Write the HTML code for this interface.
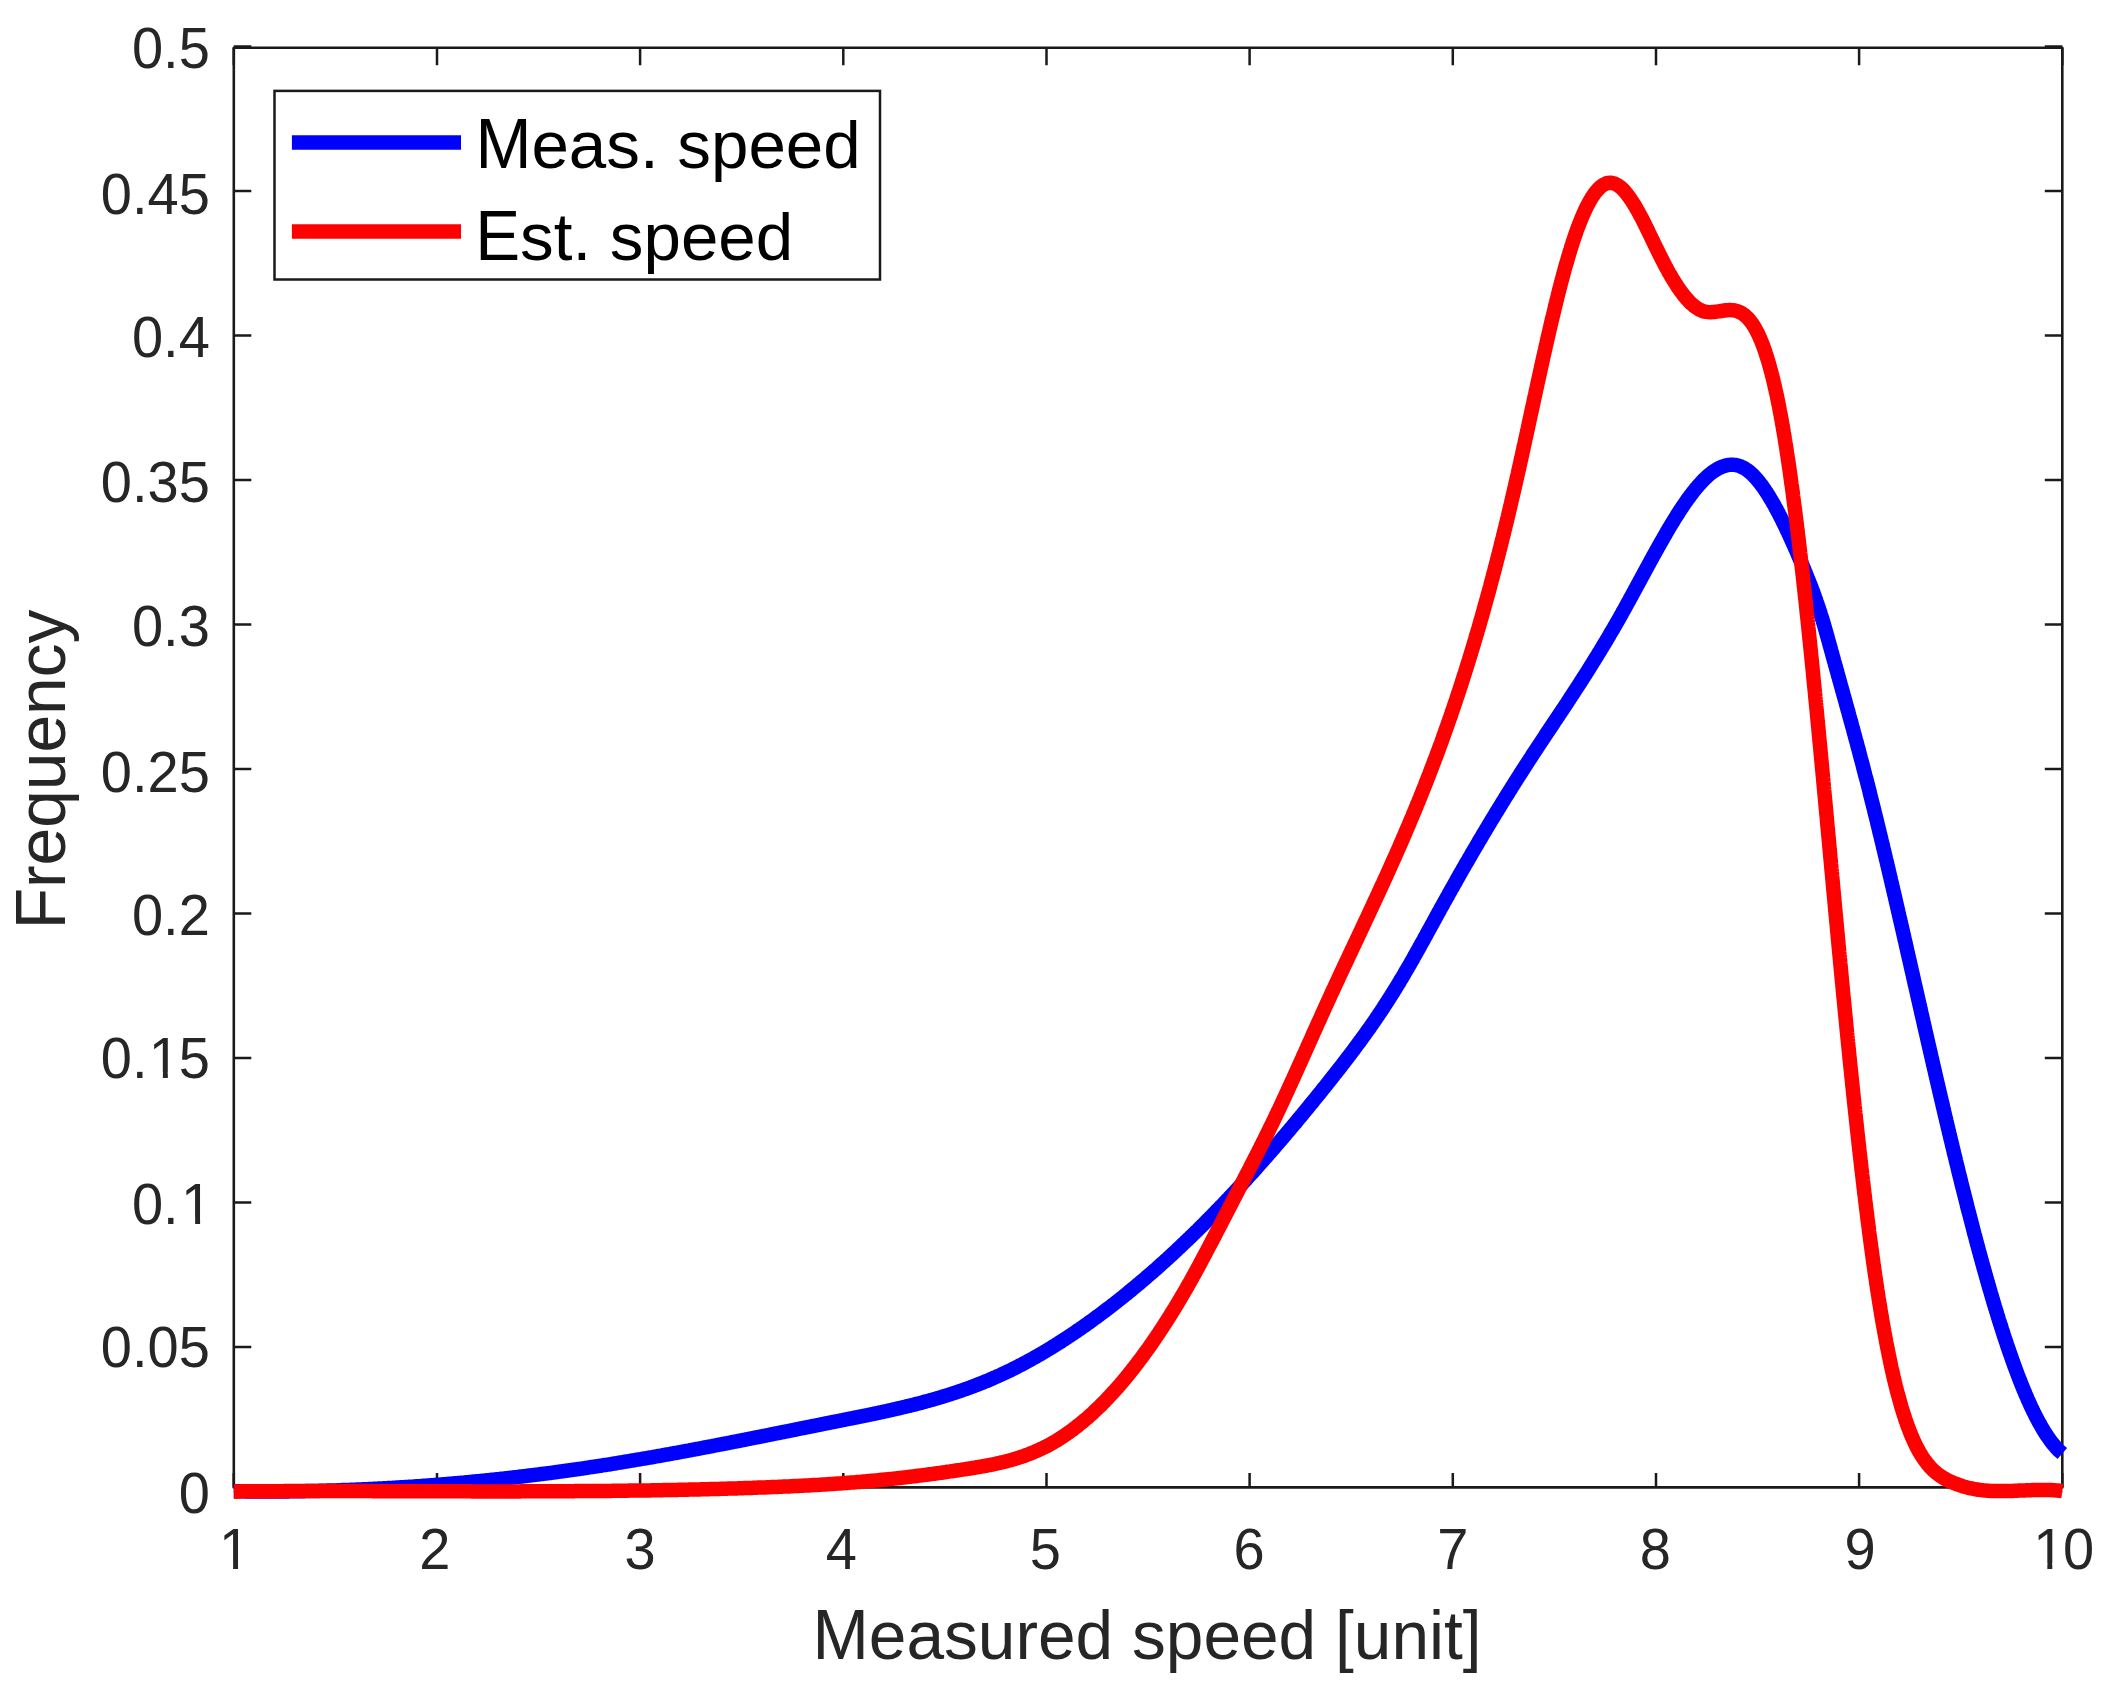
<!DOCTYPE html>
<html><head><meta charset="utf-8"><title>Speed distribution</title>
<style>html,body{margin:0;padding:0;background:#fff;}svg{display:block;}</style>
</head><body>
<svg xmlns="http://www.w3.org/2000/svg" width="2106" height="1688" viewBox="0 0 2106 1688" font-family="'Liberation Sans', Arial, Helvetica, sans-serif">
<defs><clipPath id="no1bar"><path clip-rule="evenodd" d="M0,0 H2106 V1688 H0 Z M183.82,1218.12 H195.14 V1225.18 H183.82 Z M200.09,1218.12 H210.97 V1225.18 H200.09 Z M151.58,1072.23 H162.89 V1079.29 H151.58 Z M167.84,1072.23 H178.72 V1079.29 H167.84 Z M221.79,1563.53 H233.11 V1570.60 H221.79 Z M238.06,1563.53 H248.94 V1570.60 H238.06 Z M2036.02,1563.53 H2047.34 V1570.60 H2036.02 Z M2052.29,1563.53 H2063.17 V1570.60 H2052.29 Z"/></clipPath></defs>
<rect width="2106" height="1688" fill="#fff"/>
<g fill="none" stroke-linecap="butt" stroke-linejoin="round">
<path d="M233.8,1487.4 V1472.9 M233.8,47.7 V65.2 M437.0,1487.4 V1472.9 M437.0,47.7 V65.2 M640.1,1487.4 V1472.9 M640.1,47.7 V65.2 M843.3,1487.4 V1472.9 M843.3,47.7 V65.2 M1046.5,1487.4 V1472.9 M1046.5,47.7 V65.2 M1249.6,1487.4 V1472.9 M1249.6,47.7 V65.2 M1452.8,1487.4 V1472.9 M1452.8,47.7 V65.2 M1656.0,1487.4 V1472.9 M1656.0,47.7 V65.2 M1859.1,1487.4 V1472.9 M1859.1,47.7 V65.2 M2062.3,1487.4 V1472.9 M2062.3,47.7 V65.2 M233.8,1491.4 H251.3 M2062.3,1491.4 H2044.8 M233.8,1346.9 H251.3 M2062.3,1346.9 H2044.8 M233.8,1202.4 H251.3 M2062.3,1202.4 H2044.8 M233.8,1057.9 H251.3 M2062.3,1057.9 H2044.8 M233.8,913.4 H251.3 M2062.3,913.4 H2044.8 M233.8,769.0 H251.3 M2062.3,769.0 H2044.8 M233.8,624.5 H251.3 M2062.3,624.5 H2044.8 M233.8,480.0 H251.3 M2062.3,480.0 H2044.8 M233.8,335.5 H251.3 M2062.3,335.5 H2044.8 M233.8,191.0 H251.3 M2062.3,191.0 H2044.8 M233.8,46.5 H251.3 M2062.3,46.5 H2044.8" stroke="#1a1a1a" stroke-width="2.5"/>
<rect x="233.8" y="47.7" width="1828.5" height="1439.7" stroke="#1a1a1a" stroke-width="2.6"/>
<path d="M233.8,1491.2 L235.0,1491.2 L236.2,1491.2 L237.4,1491.2 L238.6,1491.3 L239.8,1491.3 L241.1,1491.3 L242.3,1491.3 L243.5,1491.3 L244.7,1491.3 L245.9,1491.4 L247.1,1491.4 L248.3,1491.4 L249.5,1491.4 L250.7,1491.4 L251.9,1491.4 L253.2,1491.4 L254.4,1491.4 L255.6,1491.4 L256.8,1491.4 L258.0,1491.4 L259.2,1491.4 L260.4,1491.4 L261.6,1491.5 L262.8,1491.5 L264.0,1491.5 L265.2,1491.5 L266.5,1491.5 L267.7,1491.5 L268.9,1491.5 L270.1,1491.5 L271.3,1491.5 L272.5,1491.5 L273.7,1491.4 L274.9,1491.4 L276.1,1491.4 L277.3,1491.4 L278.6,1491.4 L279.8,1491.4 L281.0,1491.4 L282.2,1491.4 L283.4,1491.4 L284.6,1491.4 L285.8,1491.4 L287.0,1491.4 L288.2,1491.4 L289.4,1491.3 L290.7,1491.3 L291.9,1491.3 L293.1,1491.3 L294.3,1491.3 L295.5,1491.3 L296.7,1491.3 L297.9,1491.2 L299.1,1491.2 L300.3,1491.2 L301.5,1491.2 L302.7,1491.2 L304.0,1491.2 L305.2,1491.1 L306.4,1491.1 L307.6,1491.1 L308.8,1491.1 L310.0,1491.0 L311.2,1491.0 L312.4,1491.0 L313.6,1491.0 L314.8,1490.9 L316.1,1490.9 L317.3,1490.9 L318.5,1490.9 L319.7,1490.8 L320.9,1490.8 L322.1,1490.8 L323.3,1490.7 L324.5,1490.7 L325.7,1490.7 L326.9,1490.6 L328.1,1490.6 L329.4,1490.6 L330.6,1490.5 L331.8,1490.5 L333.0,1490.5 L334.2,1490.4 L335.4,1490.4 L336.6,1490.4 L337.8,1490.3 L339.0,1490.3 L340.2,1490.2 L341.4,1490.2 L342.7,1490.1 L343.9,1490.1 L345.1,1490.1 L346.3,1490.0 L347.5,1490.0 L348.7,1489.9 L349.9,1489.9 L351.1,1489.8 L352.3,1489.8 L353.5,1489.7 L354.7,1489.7 L355.9,1489.6 L357.2,1489.6 L358.4,1489.5 L359.6,1489.5 L360.8,1489.4 L362.0,1489.4 L363.2,1489.3 L364.4,1489.3 L365.6,1489.2 L366.8,1489.2 L368.0,1489.1 L369.2,1489.1 L370.4,1489.0 L371.7,1488.9 L372.9,1488.9 L374.1,1488.8 L375.3,1488.8 L376.5,1488.7 L377.7,1488.6 L378.9,1488.6 L380.1,1488.5 L381.3,1488.5 L382.5,1488.4 L383.7,1488.3 L384.9,1488.3 L386.2,1488.2 L387.4,1488.1 L388.6,1488.1 L389.8,1488.0 L391.0,1487.9 L392.2,1487.9 L393.4,1487.8 L394.6,1487.7 L395.8,1487.6 L397.0,1487.6 L398.2,1487.5 L399.4,1487.4 L400.6,1487.3 L401.9,1487.3 L403.1,1487.2 L404.3,1487.1 L405.5,1487.0 L406.7,1487.0 L407.9,1486.9 L409.1,1486.8 L410.3,1486.7 L411.5,1486.7 L412.7,1486.6 L413.9,1486.5 L415.1,1486.4 L416.3,1486.3 L417.5,1486.2 L418.8,1486.2 L420.0,1486.1 L421.2,1486.0 L422.4,1485.9 L423.6,1485.8 L424.8,1485.7 L426.0,1485.6 L427.2,1485.5 L428.4,1485.5 L429.6,1485.4 L430.8,1485.3 L432.0,1485.2 L433.2,1485.1 L434.4,1485.0 L435.6,1484.9 L436.8,1484.8 L438.1,1484.7 L439.3,1484.6 L440.5,1484.5 L441.7,1484.4 L442.9,1484.3 L444.1,1484.2 L445.3,1484.1 L446.5,1484.0 L447.7,1483.9 L448.9,1483.8 L450.1,1483.7 L451.3,1483.6 L452.5,1483.5 L453.7,1483.4 L454.9,1483.3 L456.1,1483.2 L457.3,1483.1 L458.5,1483.0 L459.7,1482.9 L461.0,1482.8 L462.2,1482.7 L463.4,1482.6 L464.6,1482.5 L465.8,1482.3 L467.0,1482.2 L468.2,1482.1 L469.4,1482.0 L470.6,1481.9 L471.8,1481.8 L473.0,1481.7 L474.2,1481.5 L475.4,1481.4 L476.6,1481.3 L477.8,1481.2 L479.0,1481.1 L480.2,1481.0 L481.4,1480.8 L482.6,1480.7 L483.8,1480.6 L485.0,1480.5 L486.2,1480.4 L487.4,1480.2 L488.6,1480.1 L489.8,1480.0 L491.1,1479.9 L492.3,1479.7 L493.5,1479.6 L494.7,1479.5 L495.9,1479.4 L497.1,1479.2 L498.3,1479.1 L499.5,1479.0 L500.7,1478.8 L501.9,1478.7 L503.1,1478.6 L504.3,1478.5 L505.5,1478.3 L506.7,1478.2 L507.9,1478.1 L509.1,1477.9 L510.3,1477.8 L511.5,1477.6 L512.7,1477.5 L513.9,1477.4 L515.1,1477.2 L516.3,1477.1 L517.5,1477.0 L518.7,1476.8 L519.9,1476.7 L521.1,1476.5 L522.3,1476.4 L523.5,1476.3 L524.7,1476.1 L525.9,1476.0 L527.1,1475.8 L528.3,1475.7 L529.5,1475.5 L530.7,1475.4 L531.9,1475.2 L533.1,1475.1 L534.3,1474.9 L535.5,1474.8 L536.7,1474.6 L537.9,1474.5 L539.1,1474.3 L540.3,1474.2 L541.5,1474.0 L542.7,1473.9 L543.9,1473.7 L545.1,1473.6 L546.3,1473.4 L547.5,1473.3 L548.7,1473.1 L549.9,1473.0 L551.1,1472.8 L552.3,1472.6 L553.5,1472.5 L554.7,1472.3 L555.9,1472.2 L557.1,1472.0 L558.3,1471.8 L559.5,1471.7 L560.7,1471.5 L561.9,1471.3 L563.1,1471.2 L564.3,1471.0 L565.5,1470.8 L566.7,1470.7 L567.9,1470.5 L569.1,1470.3 L570.3,1470.2 L571.5,1470.0 L572.7,1469.8 L573.9,1469.7 L575.1,1469.5 L576.3,1469.3 L577.5,1469.2 L578.7,1469.0 L579.9,1468.8 L581.1,1468.6 L582.3,1468.5 L583.5,1468.3 L584.7,1468.1 L585.9,1467.9 L587.1,1467.8 L588.3,1467.6 L589.4,1467.4 L590.6,1467.2 L591.8,1467.0 L593.0,1466.9 L594.2,1466.7 L595.4,1466.5 L596.6,1466.3 L597.8,1466.1 L599.0,1465.9 L600.2,1465.8 L601.4,1465.6 L602.6,1465.4 L603.8,1465.2 L605.0,1465.0 L606.2,1464.8 L607.4,1464.6 L608.6,1464.5 L609.8,1464.3 L611.0,1464.1 L612.2,1463.9 L613.4,1463.7 L614.5,1463.5 L615.7,1463.3 L616.9,1463.1 L618.1,1462.9 L619.3,1462.7 L620.5,1462.5 L621.7,1462.3 L622.9,1462.1 L624.1,1461.9 L625.3,1461.7 L626.5,1461.5 L627.7,1461.3 L628.9,1461.1 L630.1,1460.9 L631.3,1460.7 L632.5,1460.5 L633.6,1460.3 L634.8,1460.1 L636.0,1459.9 L637.2,1459.7 L638.4,1459.5 L639.6,1459.3 L640.8,1459.1 L642.0,1458.9 L643.2,1458.7 L644.4,1458.5 L645.6,1458.3 L646.8,1458.1 L648.0,1457.9 L649.1,1457.7 L650.3,1457.5 L651.5,1457.3 L652.7,1457.1 L653.9,1456.8 L655.1,1456.6 L656.3,1456.4 L657.5,1456.2 L658.7,1456.0 L659.9,1455.8 L661.1,1455.6 L662.2,1455.4 L663.4,1455.2 L664.6,1454.9 L665.8,1454.7 L667.0,1454.5 L668.2,1454.3 L669.4,1454.1 L670.6,1453.9 L671.8,1453.6 L673.0,1453.4 L674.1,1453.2 L675.3,1453.0 L676.5,1452.8 L677.7,1452.6 L678.9,1452.3 L680.1,1452.1 L681.3,1451.9 L682.5,1451.7 L683.7,1451.5 L684.9,1451.2 L686.0,1451.0 L687.2,1450.8 L688.4,1450.6 L689.6,1450.4 L690.8,1450.1 L692.0,1449.9 L693.2,1449.7 L694.4,1449.5 L695.6,1449.2 L696.7,1449.0 L697.9,1448.8 L699.1,1448.6 L700.3,1448.3 L701.5,1448.1 L702.7,1447.9 L703.9,1447.7 L705.1,1447.4 L706.3,1447.2 L707.4,1447.0 L708.6,1446.8 L709.8,1446.5 L711.0,1446.3 L712.2,1446.1 L713.4,1445.8 L714.6,1445.6 L715.8,1445.4 L716.9,1445.2 L718.1,1444.9 L719.3,1444.7 L720.5,1444.5 L721.7,1444.2 L722.9,1444.0 L724.1,1443.8 L725.3,1443.5 L726.4,1443.3 L727.6,1443.1 L728.8,1442.8 L730.0,1442.6 L731.2,1442.4 L732.4,1442.1 L733.6,1441.9 L734.8,1441.7 L735.9,1441.5 L737.1,1441.2 L738.3,1441.0 L739.5,1440.8 L740.7,1440.5 L741.9,1440.3 L743.1,1440.0 L744.2,1439.8 L745.4,1439.6 L746.6,1439.3 L747.8,1439.1 L749.0,1438.9 L750.2,1438.6 L751.4,1438.4 L752.6,1438.2 L753.7,1437.9 L754.9,1437.7 L756.1,1437.5 L757.3,1437.2 L758.5,1437.0 L759.7,1436.8 L760.9,1436.5 L762.0,1436.3 L763.2,1436.0 L764.4,1435.8 L765.6,1435.6 L766.8,1435.3 L768.0,1435.1 L769.2,1434.9 L770.3,1434.6 L771.5,1434.4 L772.7,1434.1 L773.9,1433.9 L775.1,1433.7 L776.3,1433.4 L777.5,1433.2 L778.7,1433.0 L779.8,1432.7 L781.0,1432.5 L782.2,1432.2 L783.4,1432.0 L784.6,1431.8 L785.8,1431.5 L787.0,1431.3 L788.1,1431.1 L789.3,1430.8 L790.5,1430.6 L791.7,1430.3 L792.9,1430.1 L794.1,1429.9 L795.3,1429.6 L796.4,1429.4 L797.6,1429.1 L798.8,1428.9 L800.0,1428.7 L801.2,1428.4 L802.4,1428.2 L803.6,1428.0 L804.7,1427.7 L805.9,1427.5 L807.1,1427.2 L808.3,1427.0 L809.5,1426.8 L810.7,1426.5 L811.9,1426.3 L813.0,1426.0 L814.2,1425.8 L815.4,1425.6 L816.6,1425.3 L817.8,1425.1 L819.0,1424.9 L820.2,1424.6 L821.3,1424.4 L822.5,1424.1 L823.7,1423.9 L824.9,1423.7 L826.1,1423.4 L827.3,1423.2 L828.5,1423.0 L829.6,1422.7 L830.8,1422.5 L832.0,1422.2 L833.2,1422.0 L834.4,1421.8 L835.6,1421.5 L836.8,1421.3 L838.0,1421.1 L839.1,1420.8 L840.3,1420.6 L841.5,1420.3 L842.7,1420.1 L843.9,1419.9 L845.1,1419.6 L846.3,1419.4 L847.4,1419.2 L848.6,1418.9 L849.8,1418.7 L851.0,1418.5 L852.2,1418.2 L853.4,1418.0 L854.6,1417.7 L855.7,1417.5 L856.9,1417.3 L858.1,1417.0 L859.3,1416.8 L860.5,1416.5 L861.7,1416.3 L862.9,1416.1 L864.0,1415.8 L865.2,1415.6 L866.4,1415.3 L867.6,1415.1 L868.8,1414.8 L870.0,1414.6 L871.2,1414.3 L872.3,1414.1 L873.5,1413.9 L874.7,1413.6 L875.9,1413.4 L877.1,1413.1 L878.3,1412.9 L879.4,1412.6 L880.6,1412.3 L881.8,1412.1 L883.0,1411.8 L884.2,1411.6 L885.3,1411.3 L886.5,1411.1 L887.7,1410.8 L888.9,1410.5 L890.1,1410.3 L891.3,1410.0 L892.4,1409.7 L893.6,1409.5 L894.8,1409.2 L896.0,1408.9 L897.1,1408.7 L898.3,1408.4 L899.5,1408.1 L900.7,1407.8 L901.9,1407.6 L903.0,1407.3 L904.2,1407.0 L905.4,1406.7 L906.6,1406.4 L907.7,1406.1 L908.9,1405.9 L910.1,1405.6 L911.3,1405.3 L912.4,1405.0 L913.6,1404.7 L914.8,1404.4 L916.0,1404.1 L917.1,1403.8 L918.3,1403.5 L919.5,1403.2 L920.6,1402.9 L921.8,1402.6 L923.0,1402.3 L924.1,1401.9 L925.3,1401.6 L926.5,1401.3 L927.6,1401.0 L928.8,1400.7 L930.0,1400.3 L931.1,1400.0 L932.3,1399.7 L933.5,1399.4 L934.6,1399.0 L935.8,1398.7 L937.0,1398.3 L938.1,1398.0 L939.3,1397.7 L940.4,1397.3 L941.6,1397.0 L942.8,1396.6 L943.9,1396.3 L945.1,1395.9 L946.2,1395.5 L947.4,1395.2 L948.5,1394.8 L949.7,1394.5 L950.8,1394.1 L952.0,1393.7 L953.1,1393.3 L954.3,1393.0 L955.4,1392.6 L956.6,1392.2 L957.7,1391.8 L958.9,1391.4 L960.0,1391.0 L961.2,1390.6 L962.3,1390.2 L963.4,1389.8 L964.6,1389.4 L965.7,1389.0 L966.9,1388.6 L968.0,1388.2 L969.1,1387.8 L970.3,1387.4 L971.4,1387.0 L972.5,1386.5 L973.7,1386.1 L974.8,1385.7 L975.9,1385.3 L977.1,1384.8 L978.2,1384.4 L979.3,1383.9 L980.4,1383.5 L981.6,1383.0 L982.7,1382.6 L983.8,1382.1 L984.9,1381.7 L986.0,1381.2 L987.2,1380.8 L988.3,1380.3 L989.4,1379.8 L990.5,1379.4 L991.6,1378.9 L992.7,1378.4 L993.8,1377.9 L994.9,1377.4 L996.1,1376.9 L997.2,1376.4 L998.3,1376.0 L999.4,1375.5 L1000.5,1375.0 L1001.6,1374.4 L1002.7,1373.9 L1003.8,1373.4 L1004.9,1372.9 L1005.9,1372.4 L1007.0,1371.9 L1008.1,1371.4 L1009.2,1370.8 L1010.3,1370.3 L1011.4,1369.8 L1012.5,1369.2 L1013.6,1368.7 L1014.6,1368.1 L1015.7,1367.6 L1016.8,1367.1 L1017.9,1366.5 L1018.9,1365.9 L1020.0,1365.4 L1021.1,1364.8 L1022.2,1364.3 L1023.2,1363.7 L1024.3,1363.1 L1025.4,1362.6 L1026.4,1362.0 L1027.5,1361.4 L1028.6,1360.8 L1029.6,1360.3 L1030.7,1359.7 L1031.7,1359.1 L1032.8,1358.5 L1033.9,1357.9 L1034.9,1357.3 L1036.0,1356.7 L1037.0,1356.1 L1038.1,1355.5 L1039.1,1354.9 L1040.2,1354.3 L1041.2,1353.7 L1042.2,1353.1 L1043.3,1352.5 L1044.3,1351.9 L1045.4,1351.2 L1046.4,1350.6 L1047.4,1350.0 L1048.5,1349.4 L1049.5,1348.7 L1050.5,1348.1 L1051.6,1347.5 L1052.6,1346.8 L1053.6,1346.2 L1054.7,1345.6 L1055.7,1344.9 L1056.7,1344.3 L1057.7,1343.6 L1058.8,1343.0 L1059.8,1342.3 L1060.8,1341.7 L1061.8,1341.0 L1062.8,1340.4 L1063.8,1339.7 L1064.9,1339.1 L1065.9,1338.4 L1066.9,1337.7 L1067.9,1337.1 L1068.9,1336.4 L1069.9,1335.7 L1070.9,1335.1 L1071.9,1334.4 L1072.9,1333.7 L1073.9,1333.1 L1074.9,1332.4 L1075.9,1331.7 L1076.9,1331.0 L1077.9,1330.3 L1078.9,1329.6 L1079.9,1329.0 L1080.9,1328.3 L1081.9,1327.6 L1082.9,1326.9 L1083.9,1326.2 L1084.9,1325.5 L1085.9,1324.8 L1086.9,1324.1 L1087.8,1323.4 L1088.8,1322.7 L1089.8,1322.0 L1090.8,1321.3 L1091.8,1320.6 L1092.8,1319.9 L1093.7,1319.1 L1094.7,1318.4 L1095.7,1317.7 L1096.7,1317.0 L1097.6,1316.3 L1098.6,1315.6 L1099.6,1314.8 L1100.5,1314.1 L1101.5,1313.4 L1102.5,1312.7 L1103.5,1311.9 L1104.4,1311.2 L1105.4,1310.5 L1106.3,1309.8 L1107.3,1309.0 L1108.3,1308.3 L1109.2,1307.6 L1110.2,1306.8 L1111.1,1306.1 L1112.1,1305.3 L1113.1,1304.6 L1114.0,1303.9 L1115.0,1303.1 L1115.9,1302.4 L1116.9,1301.6 L1117.8,1300.9 L1118.8,1300.1 L1119.7,1299.4 L1120.7,1298.6 L1121.6,1297.9 L1122.6,1297.1 L1123.5,1296.4 L1124.4,1295.6 L1125.4,1294.8 L1126.3,1294.1 L1127.3,1293.3 L1128.2,1292.5 L1129.1,1291.8 L1130.1,1291.0 L1131.0,1290.3 L1131.9,1289.5 L1132.9,1288.7 L1133.8,1287.9 L1134.7,1287.2 L1135.7,1286.4 L1136.6,1285.6 L1137.5,1284.8 L1138.5,1284.1 L1139.4,1283.3 L1140.3,1282.5 L1141.2,1281.7 L1142.2,1280.9 L1143.1,1280.2 L1144.0,1279.4 L1144.9,1278.6 L1145.8,1277.8 L1146.7,1277.0 L1147.7,1276.2 L1148.6,1275.4 L1149.5,1274.6 L1150.4,1273.8 L1151.3,1273.1 L1152.2,1272.3 L1153.1,1271.5 L1154.1,1270.7 L1155.0,1269.9 L1155.9,1269.1 L1156.8,1268.3 L1157.7,1267.5 L1158.6,1266.7 L1159.5,1265.9 L1160.4,1265.0 L1161.3,1264.2 L1162.2,1263.4 L1163.1,1262.6 L1164.0,1261.8 L1164.9,1261.0 L1165.8,1260.2 L1166.7,1259.4 L1167.6,1258.6 L1168.5,1257.7 L1169.4,1256.9 L1170.2,1256.1 L1171.1,1255.3 L1172.0,1254.5 L1172.9,1253.6 L1173.8,1252.8 L1174.7,1252.0 L1175.6,1251.2 L1176.5,1250.4 L1177.3,1249.5 L1178.2,1248.7 L1179.1,1247.9 L1180.0,1247.0 L1180.9,1246.2 L1181.7,1245.4 L1182.6,1244.5 L1183.5,1243.7 L1184.4,1242.9 L1185.2,1242.0 L1186.1,1241.2 L1187.0,1240.4 L1187.9,1239.5 L1188.7,1238.7 L1189.6,1237.9 L1190.5,1237.0 L1191.3,1236.2 L1192.2,1235.3 L1193.1,1234.5 L1193.9,1233.6 L1194.8,1232.8 L1195.7,1231.9 L1196.5,1231.1 L1197.4,1230.3 L1198.3,1229.4 L1199.1,1228.6 L1200.0,1227.7 L1200.8,1226.8 L1201.7,1226.0 L1202.6,1225.1 L1203.4,1224.3 L1204.3,1223.4 L1205.1,1222.6 L1206.0,1221.7 L1206.8,1220.9 L1207.7,1220.0 L1208.5,1219.1 L1209.4,1218.3 L1210.2,1217.4 L1211.1,1216.6 L1211.9,1215.7 L1212.8,1214.8 L1213.6,1214.0 L1214.5,1213.1 L1215.3,1212.2 L1216.1,1211.4 L1217.0,1210.5 L1217.8,1209.6 L1218.7,1208.8 L1219.5,1207.9 L1220.3,1207.0 L1221.2,1206.1 L1222.0,1205.3 L1222.9,1204.4 L1223.7,1203.5 L1224.5,1202.6 L1225.4,1201.8 L1226.2,1200.9 L1227.0,1200.0 L1227.9,1199.1 L1228.7,1198.3 L1229.5,1197.4 L1230.4,1196.5 L1231.2,1195.6 L1232.0,1194.7 L1232.8,1193.8 L1233.7,1193.0 L1234.5,1192.1 L1235.3,1191.2 L1236.1,1190.3 L1237.0,1189.4 L1237.8,1188.5 L1238.6,1187.6 L1239.4,1186.8 L1240.2,1185.9 L1241.1,1185.0 L1241.9,1184.1 L1242.7,1183.2 L1243.5,1182.3 L1244.3,1181.4 L1245.1,1180.5 L1246.0,1179.6 L1246.8,1178.7 L1247.6,1177.8 L1248.4,1176.9 L1249.2,1176.0 L1250.0,1175.1 L1250.8,1174.2 L1251.6,1173.4 L1252.5,1172.5 L1253.3,1171.6 L1254.1,1170.7 L1254.9,1169.8 L1255.7,1168.9 L1256.5,1167.9 L1257.3,1167.0 L1258.1,1166.1 L1258.9,1165.2 L1259.7,1164.3 L1260.5,1163.4 L1261.3,1162.5 L1262.1,1161.6 L1262.9,1160.7 L1263.7,1159.8 L1264.5,1158.9 L1265.3,1158.0 L1266.1,1157.1 L1266.9,1156.2 L1267.7,1155.3 L1268.5,1154.3 L1269.3,1153.4 L1270.1,1152.5 L1270.9,1151.6 L1271.7,1150.7 L1272.5,1149.8 L1273.3,1148.9 L1274.1,1148.0 L1274.8,1147.0 L1275.6,1146.1 L1276.4,1145.2 L1277.2,1144.3 L1278.0,1143.4 L1278.8,1142.5 L1279.6,1141.5 L1280.4,1140.6 L1281.2,1139.7 L1281.9,1138.8 L1282.7,1137.9 L1283.5,1136.9 L1284.3,1136.0 L1285.1,1135.1 L1285.9,1134.2 L1286.6,1133.2 L1287.4,1132.3 L1288.2,1131.4 L1289.0,1130.5 L1289.8,1129.6 L1290.5,1128.6 L1291.3,1127.7 L1292.1,1126.8 L1292.9,1125.8 L1293.7,1124.9 L1294.4,1124.0 L1295.2,1123.1 L1296.0,1122.1 L1296.8,1121.2 L1297.5,1120.3 L1298.3,1119.3 L1299.1,1118.4 L1299.8,1117.5 L1300.6,1116.6 L1301.4,1115.6 L1302.2,1114.7 L1302.9,1113.8 L1303.7,1112.8 L1304.5,1111.9 L1305.2,1111.0 L1306.0,1110.0 L1306.8,1109.1 L1307.5,1108.2 L1308.3,1107.2 L1309.1,1106.3 L1309.8,1105.3 L1310.6,1104.4 L1311.4,1103.5 L1312.1,1102.5 L1312.9,1101.6 L1313.7,1100.7 L1314.4,1099.7 L1315.2,1098.8 L1316.0,1097.8 L1316.7,1096.9 L1317.5,1096.0 L1318.2,1095.0 L1319.0,1094.1 L1319.8,1093.1 L1320.5,1092.2 L1321.3,1091.3 L1322.0,1090.3 L1322.8,1089.4 L1323.5,1088.4 L1324.3,1087.5 L1325.1,1086.5 L1325.8,1085.6 L1326.6,1084.6 L1327.3,1083.7 L1328.1,1082.8 L1328.8,1081.8 L1329.6,1080.9 L1330.3,1079.9 L1331.1,1079.0 L1331.8,1078.0 L1332.6,1077.1 L1333.3,1076.1 L1334.1,1075.2 L1334.8,1074.2 L1335.6,1073.3 L1336.3,1072.3 L1337.1,1071.4 L1337.8,1070.4 L1338.6,1069.5 L1339.3,1068.5 L1340.1,1067.6 L1340.8,1066.6 L1341.5,1065.7 L1342.3,1064.7 L1343.0,1063.7 L1343.8,1062.8 L1344.5,1061.8 L1345.2,1060.9 L1346.0,1059.9 L1346.7,1058.9 L1347.5,1058.0 L1348.2,1057.0 L1348.9,1056.1 L1349.7,1055.1 L1350.4,1054.1 L1351.1,1053.2 L1351.8,1052.2 L1352.6,1051.2 L1353.3,1050.3 L1354.0,1049.3 L1354.7,1048.3 L1355.5,1047.4 L1356.2,1046.4 L1356.9,1045.4 L1357.6,1044.4 L1358.3,1043.5 L1359.1,1042.5 L1359.8,1041.5 L1360.5,1040.5 L1361.2,1039.6 L1361.9,1038.6 L1362.6,1037.6 L1363.3,1036.6 L1364.0,1035.7 L1364.8,1034.7 L1365.5,1033.7 L1366.2,1032.7 L1366.9,1031.7 L1367.6,1030.7 L1368.3,1029.7 L1369.0,1028.8 L1369.7,1027.8 L1370.4,1026.8 L1371.0,1025.8 L1371.7,1024.8 L1372.4,1023.8 L1373.1,1022.8 L1373.8,1021.8 L1374.5,1020.8 L1375.2,1019.8 L1375.9,1018.8 L1376.5,1017.8 L1377.2,1016.8 L1377.9,1015.8 L1378.6,1014.8 L1379.2,1013.8 L1379.9,1012.8 L1380.6,1011.8 L1381.3,1010.8 L1381.9,1009.8 L1382.6,1008.8 L1383.3,1007.8 L1383.9,1006.8 L1384.6,1005.7 L1385.3,1004.7 L1385.9,1003.7 L1386.6,1002.7 L1387.2,1001.7 L1387.9,1000.7 L1388.5,999.7 L1389.2,998.6 L1389.8,997.6 L1390.5,996.6 L1391.1,995.6 L1391.8,994.5 L1392.4,993.5 L1393.1,992.5 L1393.7,991.5 L1394.3,990.4 L1395.0,989.4 L1395.6,988.4 L1396.2,987.3 L1396.9,986.3 L1397.5,985.3 L1398.1,984.3 L1398.8,983.2 L1399.4,982.2 L1400.0,981.1 L1400.6,980.1 L1401.2,979.1 L1401.9,978.0 L1402.5,977.0 L1403.1,975.9 L1403.7,974.9 L1404.3,973.9 L1404.9,972.8 L1405.5,971.8 L1406.1,970.7 L1406.8,969.7 L1407.4,968.6 L1408.0,967.6 L1408.6,966.5 L1409.2,965.5 L1409.8,964.4 L1410.4,963.4 L1411.0,962.3 L1411.6,961.3 L1412.2,960.2 L1412.8,959.2 L1413.4,958.1 L1414.0,957.1 L1414.5,956.0 L1415.1,955.0 L1415.7,953.9 L1416.3,952.9 L1416.9,951.8 L1417.5,950.7 L1418.1,949.7 L1418.7,948.6 L1419.3,947.6 L1419.9,946.5 L1420.4,945.5 L1421.0,944.4 L1421.6,943.3 L1422.2,942.3 L1422.8,941.2 L1423.4,940.2 L1424.0,939.1 L1424.5,938.0 L1425.1,937.0 L1425.7,935.9 L1426.3,934.9 L1426.9,933.8 L1427.4,932.7 L1428.0,931.7 L1428.6,930.6 L1429.2,929.6 L1429.8,928.5 L1430.4,927.4 L1430.9,926.4 L1431.5,925.3 L1432.1,924.3 L1432.7,923.2 L1433.3,922.1 L1433.8,921.1 L1434.4,920.0 L1435.0,919.0 L1435.6,917.9 L1436.2,916.8 L1436.7,915.8 L1437.3,914.7 L1437.9,913.6 L1438.5,912.6 L1439.1,911.5 L1439.7,910.5 L1440.2,909.4 L1440.8,908.3 L1441.4,907.3 L1442.0,906.2 L1442.6,905.2 L1443.2,904.1 L1443.8,903.1 L1444.3,902.0 L1444.9,900.9 L1445.5,899.9 L1446.1,898.8 L1446.7,897.8 L1447.3,896.7 L1447.9,895.7 L1448.5,894.6 L1449.0,893.5 L1449.6,892.5 L1450.2,891.4 L1450.8,890.4 L1451.4,889.3 L1452.0,888.3 L1452.6,887.2 L1453.2,886.2 L1453.8,885.1 L1454.4,884.0 L1455.0,883.0 L1455.6,881.9 L1456.2,880.9 L1456.8,879.8 L1457.3,878.8 L1457.9,877.7 L1458.5,876.7 L1459.1,875.6 L1459.7,874.6 L1460.3,873.5 L1460.9,872.5 L1461.5,871.4 L1462.1,870.4 L1462.7,869.3 L1463.3,868.3 L1463.9,867.2 L1464.5,866.2 L1465.1,865.1 L1465.7,864.1 L1466.3,863.0 L1467.0,862.0 L1467.6,860.9 L1468.2,859.9 L1468.8,858.8 L1469.4,857.8 L1470.0,856.7 L1470.6,855.7 L1471.2,854.6 L1471.8,853.6 L1472.4,852.6 L1473.0,851.5 L1473.6,850.5 L1474.2,849.4 L1474.8,848.4 L1475.5,847.3 L1476.1,846.3 L1476.7,845.2 L1477.3,844.2 L1477.9,843.2 L1478.5,842.1 L1479.1,841.1 L1479.7,840.0 L1480.4,839.0 L1481.0,838.0 L1481.6,836.9 L1482.2,835.9 L1482.8,834.8 L1483.4,833.8 L1484.1,832.7 L1484.7,831.7 L1485.3,830.7 L1485.9,829.6 L1486.5,828.6 L1487.2,827.6 L1487.8,826.5 L1488.4,825.5 L1489.0,824.4 L1489.6,823.4 L1490.3,822.4 L1490.9,821.3 L1491.5,820.3 L1492.1,819.3 L1492.8,818.2 L1493.4,817.2 L1494.0,816.2 L1494.7,815.1 L1495.3,814.1 L1495.9,813.1 L1496.5,812.0 L1497.2,811.0 L1497.8,810.0 L1498.4,808.9 L1499.1,807.9 L1499.7,806.9 L1500.3,805.8 L1501.0,804.8 L1501.6,803.8 L1502.2,802.7 L1502.9,801.7 L1503.5,800.7 L1504.1,799.6 L1504.8,798.6 L1505.4,797.6 L1506.0,796.6 L1506.7,795.5 L1507.3,794.5 L1508.0,793.5 L1508.6,792.5 L1509.2,791.4 L1509.9,790.4 L1510.5,789.4 L1511.2,788.3 L1511.8,787.3 L1512.4,786.3 L1513.1,785.3 L1513.7,784.3 L1514.4,783.2 L1515.0,782.2 L1515.7,781.2 L1516.3,780.2 L1517.0,779.1 L1517.6,778.1 L1518.3,777.1 L1518.9,776.1 L1519.6,775.1 L1520.2,774.0 L1520.9,773.0 L1521.5,772.0 L1522.2,771.0 L1522.8,770.0 L1523.5,768.9 L1524.1,767.9 L1524.8,766.9 L1525.4,765.9 L1526.1,764.9 L1526.7,763.9 L1527.4,762.8 L1528.1,761.8 L1528.7,760.8 L1529.4,759.8 L1530.0,758.8 L1530.7,757.8 L1531.4,756.8 L1532.0,755.7 L1532.7,754.7 L1533.3,753.7 L1534.0,752.7 L1534.7,751.7 L1535.3,750.7 L1536.0,749.7 L1536.7,748.7 L1537.3,747.7 L1538.0,746.6 L1538.7,745.6 L1539.3,744.6 L1540.0,743.6 L1540.7,742.6 L1541.3,741.6 L1542.0,740.6 L1542.7,739.6 L1543.3,738.6 L1544.0,737.6 L1544.7,736.6 L1545.3,735.5 L1546.0,734.5 L1546.7,733.5 L1547.3,732.5 L1548.0,731.5 L1548.7,730.5 L1549.4,729.5 L1550.0,728.5 L1550.7,727.5 L1551.4,726.5 L1552.0,725.5 L1552.7,724.5 L1553.4,723.5 L1554.0,722.5 L1554.7,721.4 L1555.4,720.4 L1556.1,719.4 L1556.7,718.4 L1557.4,717.4 L1558.1,716.4 L1558.7,715.4 L1559.4,714.4 L1560.1,713.4 L1560.7,712.4 L1561.4,711.4 L1562.1,710.4 L1562.7,709.4 L1563.4,708.3 L1564.1,707.3 L1564.8,706.3 L1565.4,705.3 L1566.1,704.3 L1566.8,703.3 L1567.4,702.3 L1568.1,701.3 L1568.7,700.3 L1569.4,699.3 L1570.1,698.2 L1570.7,697.2 L1571.4,696.2 L1572.1,695.2 L1572.7,694.2 L1573.4,693.2 L1574.0,692.2 L1574.7,691.2 L1575.4,690.1 L1576.0,689.1 L1576.7,688.1 L1577.3,687.1 L1578.0,686.1 L1578.7,685.1 L1579.3,684.1 L1580.0,683.0 L1580.6,682.0 L1581.3,681.0 L1581.9,680.0 L1582.6,679.0 L1583.2,677.9 L1583.9,676.9 L1584.5,675.9 L1585.2,674.9 L1585.8,673.9 L1586.5,672.8 L1587.1,671.8 L1587.8,670.8 L1588.4,669.8 L1589.1,668.7 L1589.7,667.7 L1590.3,666.7 L1591.0,665.7 L1591.6,664.6 L1592.3,663.6 L1592.9,662.6 L1593.5,661.6 L1594.2,660.5 L1594.8,659.5 L1595.4,658.5 L1596.1,657.4 L1596.7,656.4 L1597.3,655.4 L1598.0,654.4 L1598.6,653.3 L1599.2,652.3 L1599.9,651.3 L1600.5,650.2 L1601.1,649.2 L1601.8,648.2 L1602.4,647.1 L1603.0,646.1 L1603.6,645.0 L1604.2,644.0 L1604.9,643.0 L1605.5,641.9 L1606.1,640.9 L1606.7,639.9 L1607.3,638.8 L1608.0,637.8 L1608.6,636.7 L1609.2,635.7 L1609.8,634.6 L1610.4,633.6 L1611.0,632.6 L1611.6,631.5 L1612.2,630.5 L1612.9,629.4 L1613.5,628.4 L1614.1,627.3 L1614.7,626.3 L1615.3,625.2 L1615.9,624.2 L1616.5,623.1 L1617.1,622.1 L1617.7,621.0 L1618.3,620.0 L1618.9,618.9 L1619.5,617.9 L1620.1,616.8 L1620.7,615.8 L1621.3,614.7 L1621.8,613.7 L1622.4,612.6 L1623.0,611.6 L1623.6,610.5 L1624.2,609.4 L1624.8,608.4 L1625.4,607.3 L1626.0,606.3 L1626.5,605.2 L1627.1,604.1 L1627.7,603.1 L1628.3,602.0 L1628.9,601.0 L1629.5,599.9 L1630.0,598.8 L1630.6,597.8 L1631.2,596.7 L1631.8,595.7 L1632.3,594.6 L1632.9,593.5 L1633.5,592.5 L1634.1,591.4 L1634.7,590.3 L1635.2,589.3 L1635.8,588.2 L1636.4,587.1 L1637.0,586.1 L1637.5,585.0 L1638.1,584.0 L1638.7,582.9 L1639.3,581.8 L1639.8,580.8 L1640.4,579.7 L1641.0,578.6 L1641.6,577.6 L1642.1,576.5 L1642.7,575.4 L1643.3,574.4 L1643.9,573.3 L1644.4,572.3 L1645.0,571.2 L1645.6,570.1 L1646.2,569.1 L1646.7,568.0 L1647.3,566.9 L1647.9,565.9 L1648.5,564.8 L1649.1,563.7 L1649.6,562.7 L1650.2,561.6 L1650.8,560.6 L1651.4,559.5 L1652.0,558.4 L1652.5,557.4 L1653.1,556.3 L1653.7,555.3 L1654.3,554.2 L1654.9,553.1 L1655.5,552.1 L1656.0,551.0 L1656.6,550.0 L1657.2,548.9 L1657.8,547.9 L1658.4,546.8 L1659.0,545.7 L1659.6,544.7 L1660.2,543.6 L1660.8,542.6 L1661.4,541.5 L1662.0,540.5 L1662.6,539.4 L1663.2,538.4 L1663.8,537.3 L1664.4,536.3 L1665.0,535.2 L1665.6,534.2 L1666.2,533.1 L1666.8,532.1 L1667.4,531.0 L1668.0,530.0 L1668.6,529.0 L1669.2,527.9 L1669.9,526.9 L1670.5,525.8 L1671.1,524.8 L1671.7,523.8 L1672.4,522.7 L1673.0,521.7 L1673.6,520.7 L1674.2,519.6 L1674.9,518.6 L1675.5,517.6 L1676.2,516.6 L1676.8,515.5 L1677.5,514.5 L1678.1,513.5 L1678.8,512.5 L1679.4,511.4 L1680.1,510.4 L1680.7,509.4 L1681.4,508.4 L1682.1,507.4 L1682.7,506.4 L1683.4,505.4 L1684.1,504.4 L1684.8,503.4 L1685.5,502.4 L1686.2,501.4 L1686.8,500.4 L1687.5,499.4 L1688.3,498.4 L1689.0,497.5 L1689.7,496.5 L1690.4,495.5 L1691.1,494.6 L1691.9,493.6 L1692.6,492.6 L1693.3,491.7 L1694.1,490.7 L1694.9,489.8 L1695.6,488.9 L1696.4,487.9 L1697.2,487.0 L1697.9,486.1 L1698.7,485.2 L1699.5,484.3 L1700.4,483.4 L1701.2,482.5 L1702.0,481.6 L1702.8,480.7 L1703.7,479.8 L1704.5,479.0 L1705.4,478.2 L1706.3,477.3 L1707.2,476.5 L1708.1,475.7 L1709.0,474.9 L1709.9,474.1 L1710.9,473.4 L1711.8,472.6 L1712.8,471.9 L1713.8,471.2 L1714.8,470.6 L1715.8,469.9 L1716.9,469.3 L1717.9,468.7 L1719.0,468.1 L1720.1,467.6 L1721.2,467.1 L1722.3,466.6 L1723.4,466.2 L1724.6,465.9 L1725.7,465.5 L1726.9,465.3 L1728.1,465.0 L1729.3,464.9 L1730.5,464.8 L1731.7,464.8 L1732.9,464.8 L1734.1,464.9 L1735.3,465.0 L1736.5,465.2 L1737.7,465.5 L1738.9,465.8 L1740.0,466.2 L1741.1,466.7 L1742.3,467.2 L1743.3,467.7 L1744.4,468.3 L1745.4,468.9 L1746.4,469.6 L1747.4,470.3 L1748.4,471.0 L1749.3,471.8 L1750.3,472.5 L1751.2,473.3 L1752.1,474.2 L1752.9,475.0 L1753.8,475.9 L1754.6,476.7 L1755.4,477.6 L1756.2,478.5 L1757.0,479.4 L1757.8,480.4 L1758.6,481.3 L1759.3,482.2 L1760.1,483.2 L1760.8,484.1 L1761.5,485.1 L1762.3,486.1 L1763.0,487.1 L1763.7,488.1 L1764.4,489.1 L1765.0,490.1 L1765.7,491.1 L1766.4,492.1 L1767.0,493.1 L1767.7,494.1 L1768.3,495.1 L1769.0,496.2 L1769.6,497.2 L1770.2,498.2 L1770.8,499.3 L1771.5,500.3 L1772.1,501.4 L1772.7,502.4 L1773.3,503.5 L1773.9,504.5 L1774.5,505.6 L1775.0,506.6 L1775.6,507.7 L1776.2,508.7 L1776.8,509.8 L1777.3,510.9 L1777.9,511.9 L1778.5,513.0 L1779.0,514.1 L1779.6,515.2 L1780.1,516.2 L1780.7,517.3 L1781.2,518.4 L1781.8,519.5 L1782.3,520.6 L1782.8,521.7 L1783.4,522.7 L1783.9,523.8 L1784.4,524.9 L1785.0,526.0 L1785.5,527.1 L1786.0,528.2 L1786.5,529.3 L1787.0,530.4 L1787.6,531.5 L1788.1,532.6 L1788.6,533.7 L1789.1,534.8 L1789.6,535.9 L1790.1,537.0 L1790.6,538.1 L1791.1,539.2 L1791.6,540.3 L1792.1,541.4 L1792.6,542.5 L1793.1,543.6 L1793.6,544.7 L1794.1,545.8 L1794.6,546.9 L1795.0,548.0 L1795.5,549.1 L1796.0,550.2 L1796.5,551.3 L1797.0,552.4 L1797.5,553.5 L1797.9,554.6 L1798.4,555.8 L1798.9,556.9 L1799.4,558.0 L1799.8,559.1 L1800.3,560.2 L1800.8,561.3 L1801.3,562.4 L1801.7,563.5 L1802.2,564.7 L1802.7,565.8 L1803.2,566.9 L1803.6,568.0 L1804.1,569.1 L1804.5,570.2 L1805.0,571.4 L1805.5,572.5 L1805.9,573.6 L1806.4,574.7 L1806.8,575.8 L1807.3,577.0 L1807.7,578.1 L1808.2,579.2 L1808.6,580.3 L1809.1,581.5 L1809.5,582.6 L1810.0,583.7 L1810.4,584.8 L1810.8,586.0 L1811.3,587.1 L1811.7,588.2 L1812.1,589.4 L1812.5,590.5 L1813.0,591.6 L1813.4,592.8 L1813.8,593.9 L1814.2,595.0 L1814.6,596.2 L1815.0,597.3 L1815.4,598.4 L1815.8,599.6 L1816.2,600.7 L1816.6,601.9 L1817.0,603.0 L1817.4,604.2 L1817.8,605.3 L1818.2,606.5 L1818.6,607.6 L1819.0,608.7 L1819.3,609.9 L1819.7,611.0 L1820.1,612.2 L1820.5,613.3 L1820.8,614.5 L1821.2,615.7 L1821.6,616.8 L1821.9,618.0 L1822.3,619.1 L1822.6,620.3 L1823.0,621.4 L1823.3,622.6 L1823.7,623.7 L1824.0,624.9 L1824.4,626.1 L1824.7,627.2 L1825.0,628.4 L1825.4,629.6 L1825.7,630.7 L1826.0,631.9 L1826.4,633.0 L1826.7,634.2 L1827.0,635.4 L1827.4,636.5 L1827.7,637.7 L1828.0,638.9 L1828.3,640.0 L1828.7,641.2 L1829.0,642.4 L1829.3,643.5 L1829.6,644.7 L1829.9,645.9 L1830.3,647.0 L1830.6,648.2 L1830.9,649.4 L1831.2,650.5 L1831.6,651.7 L1831.9,652.9 L1832.2,654.0 L1832.5,655.2 L1832.8,656.4 L1833.2,657.5 L1833.5,658.7 L1833.8,659.8 L1834.1,661.0 L1834.5,662.2 L1834.8,663.3 L1835.1,664.5 L1835.4,665.7 L1835.8,666.8 L1836.1,668.0 L1836.4,669.2 L1836.7,670.3 L1837.1,671.5 L1837.4,672.7 L1837.7,673.8 L1838.0,675.0 L1838.3,676.2 L1838.7,677.3 L1839.0,678.5 L1839.3,679.7 L1839.6,680.8 L1840.0,682.0 L1840.3,683.2 L1840.6,684.3 L1840.9,685.5 L1841.3,686.7 L1841.6,687.8 L1841.9,689.0 L1842.2,690.2 L1842.6,691.3 L1842.9,692.5 L1843.2,693.6 L1843.5,694.8 L1843.9,696.0 L1844.2,697.1 L1844.5,698.3 L1844.8,699.5 L1845.2,700.6 L1845.5,701.8 L1845.8,703.0 L1846.1,704.1 L1846.4,705.3 L1846.8,706.5 L1847.1,707.6 L1847.4,708.8 L1847.7,710.0 L1848.1,711.1 L1848.4,712.3 L1848.7,713.5 L1849.0,714.6 L1849.3,715.8 L1849.7,717.0 L1850.0,718.1 L1850.3,719.3 L1850.6,720.5 L1851.0,721.6 L1851.3,722.8 L1851.6,724.0 L1851.9,725.1 L1852.2,726.3 L1852.6,727.5 L1852.9,728.6 L1853.2,729.8 L1853.5,731.0 L1853.8,732.1 L1854.1,733.3 L1854.5,734.5 L1854.8,735.6 L1855.1,736.8 L1855.4,738.0 L1855.7,739.1 L1856.0,740.3 L1856.4,741.5 L1856.7,742.6 L1857.0,743.8 L1857.3,745.0 L1857.6,746.1 L1857.9,747.3 L1858.2,748.5 L1858.6,749.6 L1858.9,750.8 L1859.2,752.0 L1859.5,753.2 L1859.8,754.3 L1860.1,755.5 L1860.4,756.7 L1860.7,757.8 L1861.0,759.0 L1861.4,760.2 L1861.7,761.3 L1862.0,762.5 L1862.3,763.7 L1862.6,764.8 L1862.9,766.0 L1863.2,767.2 L1863.5,768.4 L1863.8,769.5 L1864.1,770.7 L1864.4,771.9 L1864.7,773.0 L1865.0,774.2 L1865.3,775.4 L1865.6,776.5 L1866.0,777.7 L1866.3,778.9 L1866.6,780.1 L1866.9,781.2 L1867.2,782.4 L1867.5,783.6 L1867.8,784.7 L1868.1,785.9 L1868.4,787.1 L1868.7,788.3 L1869.0,789.4 L1869.3,790.6 L1869.6,791.8 L1869.8,793.0 L1870.1,794.1 L1870.4,795.3 L1870.7,796.5 L1871.0,797.6 L1871.3,798.8 L1871.6,800.0 L1871.9,801.2 L1872.2,802.3 L1872.5,803.5 L1872.8,804.7 L1873.1,805.9 L1873.4,807.0 L1873.7,808.2 L1874.0,809.4 L1874.3,810.6 L1874.5,811.7 L1874.8,812.9 L1875.1,814.1 L1875.4,815.3 L1875.7,816.4 L1876.0,817.6 L1876.3,818.8 L1876.6,820.0 L1876.9,821.1 L1877.2,822.3 L1877.4,823.5 L1877.7,824.6 L1878.0,825.8 L1878.3,827.0 L1878.6,828.2 L1878.9,829.4 L1879.2,830.5 L1879.4,831.7 L1879.7,832.9 L1880.0,834.1 L1880.3,835.2 L1880.6,836.4 L1880.9,837.6 L1881.2,838.8 L1881.4,839.9 L1881.7,841.1 L1882.0,842.3 L1882.3,843.5 L1882.6,844.6 L1882.9,845.8 L1883.1,847.0 L1883.4,848.2 L1883.7,849.3 L1884.0,850.5 L1884.3,851.7 L1884.5,852.9 L1884.8,854.0 L1885.1,855.2 L1885.4,856.4 L1885.7,857.6 L1885.9,858.8 L1886.2,859.9 L1886.5,861.1 L1886.8,862.3 L1887.1,863.5 L1887.3,864.6 L1887.6,865.8 L1887.9,867.0 L1888.2,868.2 L1888.4,869.3 L1888.7,870.5 L1889.0,871.7 L1889.3,872.9 L1889.6,874.1 L1889.8,875.2 L1890.1,876.4 L1890.4,877.6 L1890.7,878.8 L1890.9,879.9 L1891.2,881.1 L1891.5,882.3 L1891.8,883.5 L1892.0,884.7 L1892.3,885.8 L1892.6,887.0 L1892.9,888.2 L1893.1,889.4 L1893.4,890.5 L1893.7,891.7 L1894.0,892.9 L1894.2,894.1 L1894.5,895.3 L1894.8,896.4 L1895.1,897.6 L1895.3,898.8 L1895.6,900.0 L1895.9,901.2 L1896.1,902.3 L1896.4,903.5 L1896.7,904.7 L1897.0,905.9 L1897.2,907.0 L1897.5,908.2 L1897.8,909.4 L1898.1,910.6 L1898.3,911.8 L1898.6,912.9 L1898.9,914.1 L1899.1,915.3 L1899.4,916.5 L1899.7,917.7 L1900.0,918.8 L1900.2,920.0 L1900.5,921.2 L1900.8,922.4 L1901.0,923.6 L1901.3,924.7 L1901.6,925.9 L1901.8,927.1 L1902.1,928.3 L1902.4,929.4 L1902.7,930.6 L1902.9,931.8 L1903.2,933.0 L1903.5,934.2 L1903.7,935.3 L1904.0,936.5 L1904.3,937.7 L1904.5,938.9 L1904.8,940.1 L1905.1,941.2 L1905.4,942.4 L1905.6,943.6 L1905.9,944.8 L1906.2,946.0 L1906.4,947.1 L1906.7,948.3 L1907.0,949.5 L1907.2,950.7 L1907.5,951.9 L1907.8,953.0 L1908.0,954.2 L1908.3,955.4 L1908.6,956.6 L1908.8,957.7 L1909.1,958.9 L1909.4,960.1 L1909.7,961.3 L1909.9,962.5 L1910.2,963.6 L1910.5,964.8 L1910.7,966.0 L1911.0,967.2 L1911.3,968.4 L1911.5,969.5 L1911.8,970.7 L1912.1,971.9 L1912.3,973.1 L1912.6,974.3 L1912.9,975.4 L1913.1,976.6 L1913.4,977.8 L1913.7,979.0 L1913.9,980.2 L1914.2,981.3 L1914.5,982.5 L1914.7,983.7 L1915.0,984.9 L1915.3,986.1 L1915.6,987.2 L1915.8,988.4 L1916.1,989.6 L1916.4,990.8 L1916.6,992.0 L1916.9,993.1 L1917.2,994.3 L1917.4,995.5 L1917.7,996.7 L1918.0,997.9 L1918.2,999.0 L1918.5,1000.2 L1918.8,1001.4 L1919.0,1002.6 L1919.3,1003.8 L1919.6,1004.9 L1919.8,1006.1 L1920.1,1007.3 L1920.4,1008.5 L1920.6,1009.6 L1920.9,1010.8 L1921.2,1012.0 L1921.4,1013.2 L1921.7,1014.4 L1922.0,1015.5 L1922.3,1016.7 L1922.5,1017.9 L1922.8,1019.1 L1923.1,1020.3 L1923.3,1021.4 L1923.6,1022.6 L1923.9,1023.8 L1924.1,1025.0 L1924.4,1026.2 L1924.7,1027.3 L1924.9,1028.5 L1925.2,1029.7 L1925.5,1030.9 L1925.7,1032.1 L1926.0,1033.2 L1926.3,1034.4 L1926.6,1035.6 L1926.8,1036.8 L1927.1,1038.0 L1927.4,1039.1 L1927.6,1040.3 L1927.9,1041.5 L1928.2,1042.7 L1928.4,1043.9 L1928.7,1045.0 L1929.0,1046.2 L1929.3,1047.4 L1929.5,1048.6 L1929.8,1049.7 L1930.1,1050.9 L1930.3,1052.1 L1930.6,1053.3 L1930.9,1054.5 L1931.1,1055.6 L1931.4,1056.8 L1931.7,1058.0 L1932.0,1059.2 L1932.2,1060.4 L1932.5,1061.5 L1932.8,1062.7 L1933.0,1063.9 L1933.3,1065.1 L1933.6,1066.3 L1933.9,1067.4 L1934.1,1068.6 L1934.4,1069.8 L1934.7,1071.0 L1935.0,1072.1 L1935.2,1073.3 L1935.5,1074.5 L1935.8,1075.7 L1936.0,1076.9 L1936.3,1078.0 L1936.6,1079.2 L1936.9,1080.4 L1937.1,1081.6 L1937.4,1082.7 L1937.7,1083.9 L1938.0,1085.1 L1938.2,1086.3 L1938.5,1087.5 L1938.8,1088.6 L1939.1,1089.8 L1939.3,1091.0 L1939.6,1092.2 L1939.9,1093.4 L1940.2,1094.5 L1940.4,1095.7 L1940.7,1096.9 L1941.0,1098.1 L1941.3,1099.2 L1941.5,1100.4 L1941.8,1101.6 L1942.1,1102.8 L1942.4,1104.0 L1942.6,1105.1 L1942.9,1106.3 L1943.2,1107.5 L1943.5,1108.7 L1943.7,1109.8 L1944.0,1111.0 L1944.3,1112.2 L1944.6,1113.4 L1944.8,1114.6 L1945.1,1115.7 L1945.4,1116.9 L1945.7,1118.1 L1946.0,1119.3 L1946.2,1120.4 L1946.5,1121.6 L1946.8,1122.8 L1947.1,1124.0 L1947.4,1125.1 L1947.6,1126.3 L1947.9,1127.5 L1948.2,1128.7 L1948.5,1129.9 L1948.8,1131.0 L1949.0,1132.2 L1949.3,1133.4 L1949.6,1134.6 L1949.9,1135.7 L1950.2,1136.9 L1950.4,1138.1 L1950.7,1139.3 L1951.0,1140.4 L1951.3,1141.6 L1951.6,1142.8 L1951.9,1144.0 L1952.1,1145.1 L1952.4,1146.3 L1952.7,1147.5 L1953.0,1148.7 L1953.3,1149.8 L1953.6,1151.0 L1953.8,1152.2 L1954.1,1153.4 L1954.4,1154.6 L1954.7,1155.7 L1955.0,1156.9 L1955.3,1158.1 L1955.6,1159.3 L1955.8,1160.4 L1956.1,1161.6 L1956.4,1162.8 L1956.7,1164.0 L1957.0,1165.1 L1957.3,1166.3 L1957.6,1167.5 L1957.9,1168.7 L1958.1,1169.8 L1958.4,1171.0 L1958.7,1172.2 L1959.0,1173.4 L1959.3,1174.5 L1959.6,1175.7 L1959.9,1176.9 L1960.2,1178.0 L1960.5,1179.2 L1960.8,1180.4 L1961.0,1181.6 L1961.3,1182.7 L1961.6,1183.9 L1961.9,1185.1 L1962.2,1186.3 L1962.5,1187.4 L1962.8,1188.6 L1963.1,1189.8 L1963.4,1191.0 L1963.7,1192.1 L1964.0,1193.3 L1964.3,1194.5 L1964.6,1195.7 L1964.9,1196.8 L1965.2,1198.0 L1965.5,1199.2 L1965.8,1200.3 L1966.1,1201.5 L1966.4,1202.7 L1966.7,1203.9 L1967.0,1205.0 L1967.2,1206.2 L1967.5,1207.4 L1967.8,1208.5 L1968.1,1209.7 L1968.4,1210.9 L1968.7,1212.1 L1969.1,1213.2 L1969.4,1214.4 L1969.7,1215.6 L1970.0,1216.7 L1970.3,1217.9 L1970.6,1219.1 L1970.9,1220.3 L1971.2,1221.4 L1971.5,1222.6 L1971.8,1223.8 L1972.1,1224.9 L1972.4,1226.1 L1972.7,1227.3 L1973.0,1228.5 L1973.3,1229.6 L1973.6,1230.8 L1973.9,1232.0 L1974.2,1233.1 L1974.5,1234.3 L1974.9,1235.5 L1975.2,1236.6 L1975.5,1237.8 L1975.8,1239.0 L1976.1,1240.2 L1976.4,1241.3 L1976.7,1242.5 L1977.0,1243.7 L1977.3,1244.8 L1977.7,1246.0 L1978.0,1247.2 L1978.3,1248.3 L1978.6,1249.5 L1978.9,1250.7 L1979.2,1251.8 L1979.6,1253.0 L1979.9,1254.2 L1980.2,1255.3 L1980.5,1256.5 L1980.8,1257.7 L1981.1,1258.8 L1981.5,1260.0 L1981.8,1261.2 L1982.1,1262.3 L1982.4,1263.5 L1982.8,1264.7 L1983.1,1265.8 L1983.4,1267.0 L1983.7,1268.2 L1984.1,1269.3 L1984.4,1270.5 L1984.7,1271.7 L1985.0,1272.8 L1985.4,1274.0 L1985.7,1275.1 L1986.0,1276.3 L1986.3,1277.5 L1986.7,1278.6 L1987.0,1279.8 L1987.3,1281.0 L1987.7,1282.1 L1988.0,1283.3 L1988.3,1284.5 L1988.7,1285.6 L1989.0,1286.8 L1989.3,1287.9 L1989.7,1289.1 L1990.0,1290.3 L1990.4,1291.4 L1990.7,1292.6 L1991.0,1293.7 L1991.4,1294.9 L1991.7,1296.1 L1992.1,1297.2 L1992.4,1298.4 L1992.8,1299.5 L1993.1,1300.7 L1993.4,1301.9 L1993.8,1303.0 L1994.1,1304.2 L1994.5,1305.3 L1994.8,1306.5 L1995.2,1307.7 L1995.5,1308.8 L1995.9,1310.0 L1996.2,1311.1 L1996.6,1312.3 L1997.0,1313.4 L1997.3,1314.6 L1997.7,1315.8 L1998.0,1316.9 L1998.4,1318.1 L1998.7,1319.2 L1999.1,1320.4 L1999.5,1321.5 L1999.8,1322.7 L2000.2,1323.8 L2000.6,1325.0 L2000.9,1326.1 L2001.3,1327.3 L2001.7,1328.4 L2002.0,1329.6 L2002.4,1330.8 L2002.8,1331.9 L2003.1,1333.1 L2003.5,1334.2 L2003.9,1335.4 L2004.3,1336.5 L2004.6,1337.7 L2005.0,1338.8 L2005.4,1340.0 L2005.8,1341.1 L2006.2,1342.2 L2006.6,1343.4 L2006.9,1344.5 L2007.3,1345.7 L2007.7,1346.8 L2008.1,1348.0 L2008.5,1349.1 L2008.9,1350.3 L2009.3,1351.4 L2009.7,1352.6 L2010.1,1353.7 L2010.5,1354.8 L2010.9,1356.0 L2011.3,1357.1 L2011.7,1358.3 L2012.1,1359.4 L2012.5,1360.5 L2012.9,1361.7 L2013.3,1362.8 L2013.7,1364.0 L2014.1,1365.1 L2014.5,1366.2 L2015.0,1367.4 L2015.4,1368.5 L2015.8,1369.6 L2016.2,1370.8 L2016.7,1371.9 L2017.1,1373.0 L2017.5,1374.2 L2017.9,1375.3 L2018.4,1376.4 L2018.8,1377.5 L2019.2,1378.7 L2019.7,1379.8 L2020.1,1380.9 L2020.6,1382.1 L2021.0,1383.2 L2021.5,1384.3 L2021.9,1385.4 L2022.4,1386.5 L2022.8,1387.7 L2023.3,1388.8 L2023.7,1389.9 L2024.2,1391.0 L2024.7,1392.1 L2025.1,1393.2 L2025.6,1394.4 L2026.1,1395.5 L2026.6,1396.6 L2027.1,1397.7 L2027.5,1398.8 L2028.0,1399.9 L2028.5,1401.0 L2029.0,1402.1 L2029.5,1403.2 L2030.0,1404.3 L2030.5,1405.4 L2031.0,1406.5 L2031.5,1407.6 L2032.1,1408.7 L2032.6,1409.8 L2033.1,1410.9 L2033.6,1412.0 L2034.2,1413.1 L2034.7,1414.1 L2035.2,1415.2 L2035.8,1416.3 L2036.3,1417.4 L2036.9,1418.5 L2037.5,1419.5 L2038.0,1420.6 L2038.6,1421.7 L2039.2,1422.7 L2039.8,1423.8 L2040.4,1424.8 L2041.0,1425.9 L2041.6,1426.9 L2042.2,1428.0 L2042.8,1429.0 L2043.4,1430.1 L2044.0,1431.1 L2044.7,1432.1 L2045.3,1433.2 L2046.0,1434.2 L2046.6,1435.2 L2047.3,1436.2 L2048.0,1437.2 L2048.7,1438.2 L2049.4,1439.2 L2050.1,1440.2 L2050.8,1441.1 L2051.5,1442.1 L2052.3,1443.0 L2053.0,1444.0 L2053.8,1444.9 L2054.6,1445.8 L2055.4,1446.8 L2056.2,1447.7 L2057.0,1448.5 L2057.8,1449.4 L2058.7,1450.3 L2059.6,1451.1 L2060.5,1451.9 L2061.4,1452.7 L2062.3,1453.5" stroke="#0000ff" stroke-width="14.5"/>
<path d="M233.8,1491.4 L235.3,1491.4 L236.8,1491.4 L238.3,1491.4 L239.8,1491.4 L241.3,1491.3 L242.8,1491.3 L244.3,1491.3 L245.8,1491.3 L247.3,1491.3 L248.8,1491.3 L250.3,1491.3 L251.8,1491.3 L253.3,1491.3 L254.8,1491.3 L256.3,1491.3 L257.8,1491.3 L259.3,1491.2 L260.8,1491.2 L262.3,1491.2 L263.8,1491.2 L265.3,1491.2 L266.8,1491.2 L268.2,1491.2 L269.7,1491.2 L271.2,1491.2 L272.7,1491.2 L274.2,1491.2 L275.7,1491.2 L277.2,1491.2 L278.7,1491.2 L280.2,1491.2 L281.7,1491.2 L283.2,1491.2 L284.7,1491.1 L286.2,1491.1 L287.7,1491.1 L289.2,1491.1 L290.7,1491.1 L292.2,1491.1 L293.7,1491.1 L295.2,1491.1 L296.7,1491.1 L298.2,1491.1 L299.7,1491.1 L301.2,1491.1 L302.7,1491.1 L304.2,1491.1 L305.7,1491.1 L307.2,1491.1 L308.7,1491.1 L310.2,1491.1 L311.7,1491.1 L313.2,1491.1 L314.7,1491.1 L316.2,1491.1 L317.7,1491.1 L319.2,1491.1 L320.7,1491.1 L322.2,1491.1 L323.7,1491.1 L325.2,1491.1 L326.7,1491.1 L328.2,1491.1 L329.7,1491.1 L331.2,1491.1 L332.7,1491.1 L334.2,1491.1 L335.7,1491.1 L337.1,1491.1 L338.6,1491.1 L340.1,1491.1 L341.6,1491.1 L343.1,1491.1 L344.6,1491.1 L346.1,1491.1 L347.6,1491.1 L349.1,1491.1 L350.6,1491.1 L352.1,1491.1 L353.6,1491.1 L355.1,1491.1 L356.6,1491.1 L358.1,1491.1 L359.6,1491.1 L361.1,1491.1 L362.6,1491.1 L364.1,1491.1 L365.6,1491.1 L367.1,1491.1 L368.6,1491.1 L370.1,1491.1 L371.6,1491.1 L373.1,1491.2 L374.6,1491.2 L376.1,1491.2 L377.6,1491.2 L379.1,1491.2 L380.6,1491.2 L382.1,1491.2 L383.6,1491.2 L385.1,1491.2 L386.6,1491.2 L388.1,1491.2 L389.6,1491.2 L391.1,1491.2 L392.6,1491.2 L394.1,1491.2 L395.6,1491.2 L397.1,1491.2 L398.6,1491.2 L400.1,1491.2 L401.6,1491.2 L403.1,1491.2 L404.6,1491.2 L406.0,1491.2 L407.5,1491.2 L409.0,1491.2 L410.5,1491.2 L412.0,1491.2 L413.5,1491.2 L415.0,1491.2 L416.5,1491.2 L418.0,1491.3 L419.5,1491.3 L421.0,1491.3 L422.5,1491.3 L424.0,1491.3 L425.5,1491.3 L427.0,1491.3 L428.5,1491.3 L430.0,1491.3 L431.5,1491.3 L433.0,1491.3 L434.5,1491.3 L436.0,1491.3 L437.5,1491.3 L439.0,1491.3 L440.5,1491.3 L442.0,1491.3 L443.5,1491.3 L445.0,1491.3 L446.5,1491.3 L448.0,1491.3 L449.5,1491.3 L451.0,1491.3 L452.5,1491.3 L454.0,1491.3 L455.5,1491.3 L457.0,1491.3 L458.5,1491.3 L460.0,1491.3 L461.5,1491.3 L463.0,1491.3 L464.5,1491.3 L466.0,1491.3 L467.5,1491.3 L469.0,1491.3 L470.5,1491.3 L472.0,1491.4 L473.5,1491.4 L474.9,1491.4 L476.4,1491.4 L477.9,1491.4 L479.4,1491.4 L480.9,1491.4 L482.4,1491.4 L483.9,1491.4 L485.4,1491.4 L486.9,1491.4 L488.4,1491.4 L489.9,1491.4 L491.4,1491.4 L492.9,1491.4 L494.4,1491.4 L495.9,1491.4 L497.4,1491.4 L498.9,1491.4 L500.4,1491.4 L501.9,1491.4 L503.4,1491.4 L504.9,1491.4 L506.4,1491.4 L507.9,1491.4 L509.4,1491.4 L510.9,1491.4 L512.4,1491.4 L513.9,1491.4 L515.4,1491.4 L516.9,1491.4 L518.4,1491.4 L519.9,1491.4 L521.4,1491.3 L522.9,1491.3 L524.4,1491.3 L525.9,1491.3 L527.4,1491.3 L528.9,1491.3 L530.4,1491.3 L531.9,1491.3 L533.4,1491.3 L534.9,1491.3 L536.4,1491.3 L537.9,1491.3 L539.4,1491.3 L540.9,1491.3 L542.3,1491.3 L543.8,1491.3 L545.3,1491.3 L546.8,1491.3 L548.3,1491.3 L549.8,1491.3 L551.3,1491.3 L552.8,1491.3 L554.3,1491.3 L555.8,1491.3 L557.3,1491.2 L558.8,1491.2 L560.3,1491.2 L561.8,1491.2 L563.3,1491.2 L564.8,1491.2 L566.3,1491.2 L567.8,1491.2 L569.3,1491.2 L570.8,1491.2 L572.3,1491.2 L573.8,1491.2 L575.3,1491.1 L576.8,1491.1 L578.3,1491.1 L579.8,1491.1 L581.3,1491.1 L582.8,1491.1 L584.3,1491.1 L585.8,1491.1 L587.3,1491.1 L588.8,1491.1 L590.3,1491.0 L591.8,1491.0 L593.3,1491.0 L594.8,1491.0 L596.3,1491.0 L597.8,1491.0 L599.3,1491.0 L600.8,1491.0 L602.3,1490.9 L603.8,1490.9 L605.3,1490.9 L606.8,1490.9 L608.3,1490.9 L609.8,1490.9 L611.2,1490.9 L612.7,1490.8 L614.2,1490.8 L615.7,1490.8 L617.2,1490.8 L618.7,1490.8 L620.2,1490.8 L621.7,1490.7 L623.2,1490.7 L624.7,1490.7 L626.2,1490.7 L627.7,1490.7 L629.2,1490.6 L630.7,1490.6 L632.2,1490.6 L633.7,1490.6 L635.2,1490.6 L636.7,1490.5 L638.2,1490.5 L639.7,1490.5 L641.2,1490.5 L642.7,1490.5 L644.2,1490.4 L645.7,1490.4 L647.2,1490.4 L648.7,1490.4 L650.2,1490.4 L651.7,1490.3 L653.2,1490.3 L654.7,1490.3 L656.2,1490.3 L657.7,1490.2 L659.2,1490.2 L660.7,1490.2 L662.2,1490.2 L663.7,1490.1 L665.2,1490.1 L666.7,1490.1 L668.2,1490.0 L669.7,1490.0 L671.2,1490.0 L672.7,1490.0 L674.1,1489.9 L675.6,1489.9 L677.1,1489.9 L678.6,1489.8 L680.1,1489.8 L681.6,1489.8 L683.1,1489.7 L684.6,1489.7 L686.1,1489.7 L687.6,1489.7 L689.1,1489.6 L690.6,1489.6 L692.1,1489.6 L693.6,1489.5 L695.1,1489.5 L696.6,1489.4 L698.1,1489.4 L699.6,1489.4 L701.1,1489.3 L702.6,1489.3 L704.1,1489.3 L705.6,1489.2 L707.1,1489.2 L708.6,1489.2 L710.1,1489.1 L711.6,1489.1 L713.1,1489.0 L714.6,1489.0 L716.1,1489.0 L717.6,1488.9 L719.1,1488.9 L720.6,1488.8 L722.1,1488.8 L723.6,1488.8 L725.1,1488.7 L726.6,1488.7 L728.1,1488.6 L729.6,1488.6 L731.0,1488.5 L732.5,1488.5 L734.0,1488.4 L735.5,1488.4 L737.0,1488.4 L738.5,1488.3 L740.0,1488.3 L741.5,1488.2 L743.0,1488.2 L744.5,1488.1 L746.0,1488.1 L747.5,1488.0 L749.0,1488.0 L750.5,1487.9 L752.0,1487.9 L753.5,1487.8 L755.0,1487.8 L756.5,1487.7 L758.0,1487.6 L759.5,1487.6 L761.0,1487.5 L762.5,1487.5 L764.0,1487.4 L765.5,1487.4 L767.0,1487.3 L768.5,1487.3 L770.0,1487.2 L771.5,1487.1 L773.0,1487.1 L774.5,1487.0 L776.0,1487.0 L777.5,1486.9 L778.9,1486.8 L780.4,1486.8 L781.9,1486.7 L783.4,1486.6 L784.9,1486.6 L786.4,1486.5 L787.9,1486.4 L789.4,1486.4 L790.9,1486.3 L792.4,1486.2 L793.9,1486.1 L795.4,1486.1 L796.9,1486.0 L798.4,1485.9 L799.9,1485.8 L801.4,1485.8 L802.9,1485.7 L804.4,1485.6 L805.9,1485.5 L807.4,1485.5 L808.9,1485.4 L810.4,1485.3 L811.9,1485.2 L813.4,1485.1 L814.9,1485.0 L816.3,1484.9 L817.8,1484.9 L819.3,1484.8 L820.8,1484.7 L822.3,1484.6 L823.8,1484.5 L825.3,1484.4 L826.8,1484.3 L828.3,1484.2 L829.8,1484.1 L831.3,1484.0 L832.8,1483.9 L834.3,1483.8 L835.8,1483.7 L837.3,1483.6 L838.8,1483.5 L840.3,1483.4 L841.8,1483.3 L843.2,1483.2 L844.7,1483.1 L846.2,1483.0 L847.7,1482.8 L849.2,1482.7 L850.7,1482.6 L852.2,1482.5 L853.7,1482.4 L855.2,1482.3 L856.7,1482.1 L858.2,1482.0 L859.7,1481.9 L861.2,1481.8 L862.7,1481.6 L864.2,1481.5 L865.6,1481.4 L867.1,1481.2 L868.6,1481.1 L870.1,1481.0 L871.6,1480.8 L873.1,1480.7 L874.6,1480.6 L876.1,1480.4 L877.6,1480.3 L879.1,1480.1 L880.6,1480.0 L882.0,1479.8 L883.5,1479.7 L885.0,1479.5 L886.5,1479.4 L888.0,1479.2 L889.5,1479.1 L891.0,1478.9 L892.5,1478.8 L894.0,1478.6 L895.5,1478.4 L896.9,1478.3 L898.4,1478.1 L899.9,1477.9 L901.4,1477.8 L902.9,1477.6 L904.4,1477.4 L905.9,1477.3 L907.4,1477.1 L908.8,1476.9 L910.3,1476.7 L911.8,1476.6 L913.3,1476.4 L914.8,1476.2 L916.3,1476.0 L917.8,1475.8 L919.3,1475.6 L920.7,1475.4 L922.2,1475.3 L923.7,1475.1 L925.2,1474.9 L926.7,1474.7 L928.2,1474.5 L929.7,1474.3 L931.1,1474.1 L932.6,1473.9 L934.1,1473.7 L935.6,1473.5 L937.1,1473.3 L938.6,1473.1 L940.0,1472.9 L941.5,1472.7 L943.0,1472.5 L944.5,1472.3 L946.0,1472.0 L947.5,1471.8 L948.9,1471.6 L950.4,1471.4 L951.9,1471.2 L953.4,1471.0 L954.9,1470.7 L956.3,1470.5 L957.8,1470.3 L959.3,1470.1 L960.8,1469.9 L962.3,1469.6 L963.8,1469.4 L965.2,1469.2 L966.7,1469.0 L968.2,1468.7 L969.7,1468.5 L971.2,1468.3 L972.6,1468.0 L974.1,1467.8 L975.6,1467.5 L977.1,1467.3 L978.5,1467.0 L980.0,1466.8 L981.5,1466.5 L983.0,1466.3 L984.4,1466.0 L985.9,1465.7 L987.4,1465.5 L988.9,1465.2 L990.3,1464.9 L991.8,1464.6 L993.3,1464.3 L994.7,1464.0 L996.2,1463.7 L997.7,1463.4 L999.1,1463.0 L1000.6,1462.7 L1002.0,1462.3 L1003.5,1462.0 L1004.9,1461.6 L1006.4,1461.3 L1007.8,1460.9 L1009.3,1460.5 L1010.7,1460.1 L1012.2,1459.7 L1013.6,1459.3 L1015.1,1458.8 L1016.5,1458.4 L1017.9,1458.0 L1019.3,1457.5 L1020.8,1457.0 L1022.2,1456.5 L1023.6,1456.1 L1025.0,1455.6 L1026.4,1455.0 L1027.8,1454.5 L1029.2,1454.0 L1030.6,1453.4 L1032.0,1452.9 L1033.4,1452.3 L1034.8,1451.7 L1036.1,1451.1 L1037.5,1450.5 L1038.9,1449.9 L1040.2,1449.3 L1041.6,1448.6 L1042.9,1448.0 L1044.3,1447.3 L1045.6,1446.7 L1047.0,1446.0 L1048.3,1445.3 L1049.6,1444.6 L1050.9,1443.8 L1052.2,1443.1 L1053.5,1442.4 L1054.8,1441.6 L1056.1,1440.8 L1057.4,1440.1 L1058.6,1439.3 L1059.9,1438.5 L1061.2,1437.7 L1062.4,1436.8 L1063.7,1436.0 L1064.9,1435.2 L1066.2,1434.3 L1067.4,1433.5 L1068.6,1432.6 L1069.8,1431.8 L1071.0,1430.9 L1072.3,1430.0 L1073.5,1429.1 L1074.6,1428.2 L1075.8,1427.3 L1077.0,1426.4 L1078.2,1425.4 L1079.4,1424.5 L1080.5,1423.5 L1081.7,1422.6 L1082.8,1421.6 L1084.0,1420.7 L1085.1,1419.7 L1086.3,1418.7 L1087.4,1417.8 L1088.5,1416.8 L1089.6,1415.8 L1090.8,1414.8 L1091.9,1413.8 L1093.0,1412.8 L1094.1,1411.7 L1095.2,1410.7 L1096.3,1409.7 L1097.3,1408.6 L1098.4,1407.6 L1099.5,1406.6 L1100.6,1405.5 L1101.6,1404.5 L1102.7,1403.4 L1103.7,1402.3 L1104.8,1401.3 L1105.8,1400.2 L1106.9,1399.1 L1107.9,1398.0 L1108.9,1396.9 L1109.9,1395.8 L1111.0,1394.7 L1112.0,1393.6 L1113.0,1392.5 L1114.0,1391.4 L1115.0,1390.3 L1116.0,1389.2 L1117.0,1388.1 L1118.0,1387.0 L1119.0,1385.8 L1120.0,1384.7 L1120.9,1383.6 L1121.9,1382.4 L1122.9,1381.3 L1123.8,1380.1 L1124.8,1379.0 L1125.8,1377.8 L1126.7,1376.7 L1127.7,1375.5 L1128.6,1374.4 L1129.5,1373.2 L1130.5,1372.0 L1131.4,1370.8 L1132.3,1369.7 L1133.3,1368.5 L1134.2,1367.3 L1135.1,1366.1 L1136.0,1364.9 L1136.9,1363.8 L1137.8,1362.6 L1138.7,1361.4 L1139.6,1360.2 L1140.5,1359.0 L1141.4,1357.8 L1142.3,1356.6 L1143.2,1355.4 L1144.1,1354.2 L1145.0,1352.9 L1145.9,1351.7 L1146.7,1350.5 L1147.6,1349.3 L1148.5,1348.1 L1149.3,1346.9 L1150.2,1345.6 L1151.1,1344.4 L1151.9,1343.2 L1152.8,1341.9 L1153.6,1340.7 L1154.5,1339.5 L1155.3,1338.2 L1156.2,1337.0 L1157.0,1335.8 L1157.8,1334.5 L1158.7,1333.3 L1159.5,1332.0 L1160.3,1330.8 L1161.1,1329.5 L1162.0,1328.3 L1162.8,1327.0 L1163.6,1325.8 L1164.4,1324.5 L1165.2,1323.2 L1166.0,1322.0 L1166.8,1320.7 L1167.6,1319.5 L1168.4,1318.2 L1169.2,1316.9 L1170.0,1315.7 L1170.8,1314.4 L1171.6,1313.1 L1172.4,1311.8 L1173.2,1310.6 L1174.0,1309.3 L1174.8,1308.0 L1175.5,1306.7 L1176.3,1305.4 L1177.1,1304.2 L1177.9,1302.9 L1178.6,1301.6 L1179.4,1300.3 L1180.2,1299.0 L1180.9,1297.7 L1181.7,1296.4 L1182.4,1295.1 L1183.2,1293.9 L1183.9,1292.6 L1184.7,1291.3 L1185.4,1290.0 L1186.2,1288.7 L1186.9,1287.4 L1187.7,1286.1 L1188.4,1284.8 L1189.1,1283.5 L1189.9,1282.2 L1190.6,1280.9 L1191.4,1279.5 L1192.1,1278.2 L1192.8,1276.9 L1193.5,1275.6 L1194.3,1274.3 L1195.0,1273.0 L1195.7,1271.7 L1196.4,1270.4 L1197.1,1269.1 L1197.9,1267.7 L1198.6,1266.4 L1199.3,1265.1 L1200.0,1263.8 L1200.7,1262.5 L1201.4,1261.1 L1202.1,1259.8 L1202.8,1258.5 L1203.5,1257.2 L1204.2,1255.9 L1204.9,1254.5 L1205.6,1253.2 L1206.3,1251.9 L1207.0,1250.6 L1207.7,1249.2 L1208.4,1247.9 L1209.1,1246.6 L1209.8,1245.3 L1210.5,1243.9 L1211.2,1242.6 L1211.9,1241.3 L1212.6,1240.0 L1213.3,1238.6 L1214.0,1237.3 L1214.7,1236.0 L1215.4,1234.6 L1216.1,1233.3 L1216.7,1232.0 L1217.4,1230.6 L1218.1,1229.3 L1218.8,1228.0 L1219.5,1226.7 L1220.2,1225.3 L1220.9,1224.0 L1221.6,1222.7 L1222.2,1221.3 L1222.9,1220.0 L1223.6,1218.7 L1224.3,1217.3 L1225.0,1216.0 L1225.7,1214.7 L1226.4,1213.3 L1227.1,1212.0 L1227.7,1210.7 L1228.4,1209.4 L1229.1,1208.0 L1229.8,1206.7 L1230.5,1205.4 L1231.2,1204.0 L1231.9,1202.7 L1232.5,1201.4 L1233.2,1200.0 L1233.9,1198.7 L1234.6,1197.4 L1235.3,1196.0 L1236.0,1194.7 L1236.7,1193.4 L1237.4,1192.1 L1238.1,1190.7 L1238.7,1189.4 L1239.4,1188.1 L1240.1,1186.7 L1240.8,1185.4 L1241.5,1184.1 L1242.2,1182.7 L1242.9,1181.4 L1243.6,1180.1 L1244.3,1178.8 L1244.9,1177.4 L1245.6,1176.1 L1246.3,1174.8 L1247.0,1173.4 L1247.7,1172.1 L1248.4,1170.8 L1249.1,1169.4 L1249.8,1168.1 L1250.4,1166.8 L1251.1,1165.4 L1251.8,1164.1 L1252.5,1162.8 L1253.2,1161.5 L1253.9,1160.1 L1254.6,1158.8 L1255.2,1157.5 L1255.9,1156.1 L1256.6,1154.8 L1257.3,1153.4 L1258.0,1152.1 L1258.6,1150.8 L1259.3,1149.4 L1260.0,1148.1 L1260.7,1146.8 L1261.3,1145.4 L1262.0,1144.1 L1262.7,1142.8 L1263.3,1141.4 L1264.0,1140.1 L1264.7,1138.7 L1265.3,1137.4 L1266.0,1136.0 L1266.7,1134.7 L1267.3,1133.4 L1268.0,1132.0 L1268.7,1130.7 L1269.3,1129.3 L1270.0,1128.0 L1270.6,1126.6 L1271.3,1125.3 L1272.0,1123.9 L1272.6,1122.6 L1273.3,1121.2 L1273.9,1119.9 L1274.6,1118.5 L1275.2,1117.2 L1275.8,1115.8 L1276.5,1114.5 L1277.1,1113.1 L1277.8,1111.8 L1278.4,1110.4 L1279.1,1109.1 L1279.7,1107.7 L1280.3,1106.4 L1281.0,1105.0 L1281.6,1103.7 L1282.2,1102.3 L1282.9,1100.9 L1283.5,1099.6 L1284.1,1098.2 L1284.8,1096.9 L1285.4,1095.5 L1286.0,1094.1 L1286.6,1092.8 L1287.3,1091.4 L1287.9,1090.1 L1288.5,1088.7 L1289.1,1087.3 L1289.8,1086.0 L1290.4,1084.6 L1291.0,1083.3 L1291.6,1081.9 L1292.2,1080.5 L1292.9,1079.2 L1293.5,1077.8 L1294.1,1076.4 L1294.7,1075.1 L1295.3,1073.7 L1296.0,1072.3 L1296.6,1071.0 L1297.2,1069.6 L1297.8,1068.2 L1298.4,1066.9 L1299.0,1065.5 L1299.6,1064.1 L1300.3,1062.8 L1300.9,1061.4 L1301.5,1060.0 L1302.1,1058.7 L1302.7,1057.3 L1303.3,1055.9 L1303.9,1054.6 L1304.6,1053.2 L1305.2,1051.8 L1305.8,1050.5 L1306.4,1049.1 L1307.0,1047.7 L1307.6,1046.4 L1308.2,1045.0 L1308.8,1043.6 L1309.4,1042.3 L1310.1,1040.9 L1310.7,1039.5 L1311.3,1038.2 L1311.9,1036.8 L1312.5,1035.4 L1313.1,1034.1 L1313.7,1032.7 L1314.3,1031.3 L1315.0,1030.0 L1315.6,1028.6 L1316.2,1027.2 L1316.8,1025.9 L1317.4,1024.5 L1318.0,1023.1 L1318.6,1021.8 L1319.3,1020.4 L1319.9,1019.0 L1320.5,1017.7 L1321.1,1016.3 L1321.7,1015.0 L1322.3,1013.6 L1323.0,1012.2 L1323.6,1010.9 L1324.2,1009.5 L1324.8,1008.1 L1325.4,1006.8 L1326.0,1005.4 L1326.7,1004.0 L1327.3,1002.7 L1327.9,1001.3 L1328.5,1000.0 L1329.2,998.6 L1329.8,997.2 L1330.4,995.9 L1331.0,994.5 L1331.7,993.1 L1332.3,991.8 L1332.9,990.4 L1333.5,989.1 L1334.2,987.7 L1334.8,986.3 L1335.4,985.0 L1336.1,983.6 L1336.7,982.3 L1337.3,980.9 L1338.0,979.6 L1338.6,978.2 L1339.2,976.8 L1339.8,975.5 L1340.5,974.1 L1341.1,972.8 L1341.7,971.4 L1342.4,970.0 L1343.0,968.7 L1343.7,967.3 L1344.3,966.0 L1344.9,964.6 L1345.6,963.3 L1346.2,961.9 L1346.8,960.6 L1347.5,959.2 L1348.1,957.8 L1348.7,956.5 L1349.4,955.1 L1350.0,953.8 L1350.7,952.4 L1351.3,951.1 L1351.9,949.7 L1352.6,948.4 L1353.2,947.0 L1353.8,945.6 L1354.5,944.3 L1355.1,942.9 L1355.8,941.6 L1356.4,940.2 L1357.0,938.9 L1357.7,937.5 L1358.3,936.2 L1358.9,934.8 L1359.6,933.4 L1360.2,932.1 L1360.9,930.7 L1361.5,929.4 L1362.1,928.0 L1362.8,926.7 L1363.4,925.3 L1364.0,924.0 L1364.7,922.6 L1365.3,921.2 L1365.9,919.9 L1366.6,918.5 L1367.2,917.2 L1367.9,915.8 L1368.5,914.5 L1369.1,913.1 L1369.8,911.7 L1370.4,910.4 L1371.0,909.0 L1371.7,907.7 L1372.3,906.3 L1372.9,905.0 L1373.6,903.6 L1374.2,902.2 L1374.8,900.9 L1375.4,899.5 L1376.1,898.2 L1376.7,896.8 L1377.3,895.4 L1378.0,894.1 L1378.6,892.7 L1379.2,891.4 L1379.8,890.0 L1380.5,888.6 L1381.1,887.3 L1381.7,885.9 L1382.3,884.6 L1383.0,883.2 L1383.6,881.8 L1384.2,880.5 L1384.8,879.1 L1385.4,877.8 L1386.1,876.4 L1386.7,875.0 L1387.3,873.7 L1387.9,872.3 L1388.5,870.9 L1389.2,869.6 L1389.8,868.2 L1390.4,866.8 L1391.0,865.5 L1391.6,864.1 L1392.2,862.7 L1392.8,861.4 L1393.4,860.0 L1394.1,858.6 L1394.7,857.3 L1395.3,855.9 L1395.9,854.5 L1396.5,853.2 L1397.1,851.8 L1397.7,850.4 L1398.3,849.0 L1398.9,847.7 L1399.5,846.3 L1400.1,844.9 L1400.7,843.6 L1401.3,842.2 L1401.9,840.8 L1402.5,839.4 L1403.1,838.1 L1403.7,836.7 L1404.3,835.3 L1404.9,833.9 L1405.5,832.6 L1406.0,831.2 L1406.6,829.8 L1407.2,828.4 L1407.8,827.0 L1408.4,825.7 L1409.0,824.3 L1409.6,822.9 L1410.1,821.5 L1410.7,820.1 L1411.3,818.8 L1411.9,817.4 L1412.5,816.0 L1413.0,814.6 L1413.6,813.2 L1414.2,811.9 L1414.8,810.5 L1415.3,809.1 L1415.9,807.7 L1416.5,806.3 L1417.0,804.9 L1417.6,803.5 L1418.2,802.2 L1418.7,800.8 L1419.3,799.4 L1419.9,798.0 L1420.4,796.6 L1421.0,795.2 L1421.6,793.8 L1422.1,792.4 L1422.7,791.0 L1423.2,789.7 L1423.8,788.3 L1424.3,786.9 L1424.9,785.5 L1425.4,784.1 L1426.0,782.7 L1426.5,781.3 L1427.1,779.9 L1427.6,778.5 L1428.2,777.1 L1428.7,775.7 L1429.3,774.3 L1429.8,772.9 L1430.3,771.5 L1430.9,770.1 L1431.4,768.7 L1431.9,767.3 L1432.5,765.9 L1433.0,764.5 L1433.5,763.1 L1434.1,761.7 L1434.6,760.3 L1435.1,758.9 L1435.7,757.5 L1436.2,756.1 L1436.7,754.7 L1437.2,753.3 L1437.8,751.9 L1438.3,750.5 L1438.8,749.1 L1439.3,747.7 L1439.8,746.3 L1440.3,744.9 L1440.9,743.5 L1441.4,742.1 L1441.9,740.7 L1442.4,739.3 L1442.9,737.9 L1443.4,736.4 L1443.9,735.0 L1444.4,733.6 L1444.9,732.2 L1445.4,730.8 L1445.9,729.4 L1446.4,728.0 L1446.9,726.6 L1447.4,725.2 L1447.9,723.7 L1448.4,722.3 L1448.9,720.9 L1449.4,719.5 L1449.9,718.1 L1450.4,716.7 L1450.9,715.3 L1451.4,713.8 L1451.8,712.4 L1452.3,711.0 L1452.8,709.6 L1453.3,708.2 L1453.8,706.7 L1454.3,705.3 L1454.7,703.9 L1455.2,702.5 L1455.7,701.1 L1456.2,699.6 L1456.6,698.2 L1457.1,696.8 L1457.6,695.4 L1458.1,694.0 L1458.5,692.5 L1459.0,691.1 L1459.5,689.7 L1459.9,688.3 L1460.4,686.8 L1460.9,685.4 L1461.3,684.0 L1461.8,682.6 L1462.2,681.1 L1462.7,679.7 L1463.2,678.3 L1463.6,676.9 L1464.1,675.4 L1464.5,674.0 L1465.0,672.6 L1465.4,671.2 L1465.9,669.7 L1466.3,668.3 L1466.8,666.9 L1467.2,665.4 L1467.7,664.0 L1468.1,662.6 L1468.5,661.2 L1469.0,659.7 L1469.4,658.3 L1469.9,656.9 L1470.3,655.4 L1470.8,654.0 L1471.2,652.6 L1471.6,651.1 L1472.1,649.7 L1472.5,648.3 L1472.9,646.8 L1473.4,645.4 L1473.8,644.0 L1474.2,642.5 L1474.6,641.1 L1475.1,639.7 L1475.5,638.2 L1475.9,636.8 L1476.3,635.3 L1476.8,633.9 L1477.2,632.5 L1477.6,631.0 L1478.0,629.6 L1478.5,628.2 L1478.9,626.7 L1479.3,625.3 L1479.7,623.8 L1480.1,622.4 L1480.5,621.0 L1480.9,619.5 L1481.4,618.1 L1481.8,616.6 L1482.2,615.2 L1482.6,613.8 L1483.0,612.3 L1483.4,610.9 L1483.8,609.4 L1484.2,608.0 L1484.6,606.5 L1485.0,605.1 L1485.4,603.7 L1485.8,602.2 L1486.2,600.8 L1486.6,599.3 L1487.0,597.9 L1487.4,596.4 L1487.8,595.0 L1488.2,593.6 L1488.6,592.1 L1489.0,590.7 L1489.4,589.2 L1489.8,587.8 L1490.2,586.3 L1490.5,584.9 L1490.9,583.4 L1491.3,582.0 L1491.7,580.5 L1492.1,579.1 L1492.5,577.6 L1492.9,576.2 L1493.2,574.7 L1493.6,573.3 L1494.0,571.9 L1494.4,570.4 L1494.8,569.0 L1495.1,567.5 L1495.5,566.1 L1495.9,564.6 L1496.3,563.2 L1496.6,561.7 L1497.0,560.3 L1497.4,558.8 L1497.8,557.4 L1498.1,555.9 L1498.5,554.5 L1498.9,553.0 L1499.2,551.5 L1499.6,550.1 L1500.0,548.6 L1500.4,547.2 L1500.7,545.7 L1501.1,544.3 L1501.4,542.8 L1501.8,541.4 L1502.2,539.9 L1502.5,538.5 L1502.9,537.0 L1503.3,535.6 L1503.6,534.1 L1504.0,532.7 L1504.3,531.2 L1504.7,529.7 L1505.0,528.3 L1505.4,526.8 L1505.7,525.4 L1506.1,523.9 L1506.5,522.5 L1506.8,521.0 L1507.2,519.6 L1507.5,518.1 L1507.9,516.6 L1508.2,515.2 L1508.6,513.7 L1508.9,512.3 L1509.2,510.8 L1509.6,509.4 L1509.9,507.9 L1510.3,506.4 L1510.6,505.0 L1511.0,503.5 L1511.3,502.1 L1511.6,500.6 L1512.0,499.2 L1512.3,497.7 L1512.7,496.2 L1513.0,494.8 L1513.3,493.3 L1513.7,491.9 L1514.0,490.4 L1514.4,488.9 L1514.7,487.5 L1515.0,486.0 L1515.4,484.6 L1515.7,483.1 L1516.0,481.6 L1516.3,480.2 L1516.7,478.7 L1517.0,477.3 L1517.3,475.8 L1517.7,474.3 L1518.0,472.9 L1518.3,471.4 L1518.7,469.9 L1519.0,468.5 L1519.3,467.0 L1519.6,465.6 L1520.0,464.1 L1520.3,462.6 L1520.6,461.2 L1520.9,459.7 L1521.3,458.3 L1521.6,456.8 L1521.9,455.3 L1522.2,453.9 L1522.5,452.4 L1522.9,450.9 L1523.2,449.5 L1523.5,448.0 L1523.8,446.5 L1524.1,445.1 L1524.5,443.6 L1524.8,442.2 L1525.1,440.7 L1525.4,439.2 L1525.7,437.8 L1526.1,436.3 L1526.4,434.8 L1526.7,433.4 L1527.0,431.9 L1527.3,430.5 L1527.7,429.0 L1528.0,427.5 L1528.3,426.1 L1528.6,424.6 L1528.9,423.1 L1529.2,421.7 L1529.6,420.2 L1529.9,418.7 L1530.2,417.3 L1530.5,415.8 L1530.8,414.3 L1531.1,412.9 L1531.5,411.4 L1531.8,410.0 L1532.1,408.5 L1532.4,407.0 L1532.7,405.6 L1533.1,404.1 L1533.4,402.6 L1533.7,401.2 L1534.0,399.7 L1534.3,398.2 L1534.6,396.8 L1535.0,395.3 L1535.3,393.9 L1535.6,392.4 L1535.9,390.9 L1536.2,389.5 L1536.6,388.0 L1536.9,386.5 L1537.2,385.1 L1537.5,383.6 L1537.8,382.1 L1538.2,380.7 L1538.5,379.2 L1538.8,377.8 L1539.1,376.3 L1539.4,374.8 L1539.8,373.4 L1540.1,371.9 L1540.4,370.4 L1540.7,369.0 L1541.0,367.5 L1541.4,366.1 L1541.7,364.6 L1542.0,363.1 L1542.3,361.7 L1542.7,360.2 L1543.0,358.7 L1543.3,357.3 L1543.6,355.8 L1544.0,354.4 L1544.3,352.9 L1544.6,351.4 L1545.0,350.0 L1545.3,348.5 L1545.6,347.1 L1545.9,345.6 L1546.3,344.1 L1546.6,342.7 L1546.9,341.2 L1547.3,339.8 L1547.6,338.3 L1547.9,336.8 L1548.3,335.4 L1548.6,333.9 L1548.9,332.5 L1549.3,331.0 L1549.6,329.5 L1550.0,328.1 L1550.3,326.6 L1550.6,325.2 L1551.0,323.7 L1551.3,322.2 L1551.7,320.8 L1552.0,319.3 L1552.4,317.9 L1552.7,316.4 L1553.1,315.0 L1553.4,313.5 L1553.8,312.0 L1554.1,310.6 L1554.5,309.1 L1554.8,307.7 L1555.2,306.2 L1555.5,304.8 L1555.9,303.3 L1556.2,301.9 L1556.6,300.4 L1557.0,298.9 L1557.3,297.5 L1557.7,296.0 L1558.0,294.6 L1558.4,293.1 L1558.8,291.7 L1559.1,290.2 L1559.5,288.8 L1559.9,287.3 L1560.3,285.9 L1560.6,284.4 L1561.0,283.0 L1561.4,281.5 L1561.8,280.1 L1562.2,278.6 L1562.6,277.2 L1562.9,275.7 L1563.3,274.3 L1563.7,272.9 L1564.1,271.4 L1564.5,270.0 L1564.9,268.5 L1565.3,267.1 L1565.7,265.6 L1566.1,264.2 L1566.6,262.8 L1567.0,261.3 L1567.4,259.9 L1567.8,258.4 L1568.2,257.0 L1568.6,255.6 L1569.1,254.1 L1569.5,252.7 L1569.9,251.3 L1570.4,249.8 L1570.8,248.4 L1571.3,247.0 L1571.7,245.5 L1572.2,244.1 L1572.6,242.7 L1573.1,241.3 L1573.6,239.8 L1574.1,238.4 L1574.5,237.0 L1575.0,235.6 L1575.5,234.2 L1576.0,232.8 L1576.5,231.3 L1577.0,229.9 L1577.5,228.5 L1578.1,227.1 L1578.6,225.7 L1579.1,224.3 L1579.7,222.9 L1580.2,221.5 L1580.8,220.1 L1581.3,218.8 L1581.9,217.4 L1582.5,216.0 L1583.1,214.6 L1583.7,213.3 L1584.3,211.9 L1584.9,210.5 L1585.6,209.2 L1586.2,207.8 L1586.9,206.5 L1587.6,205.1 L1588.3,203.8 L1589.0,202.5 L1589.7,201.2 L1590.5,199.9 L1591.2,198.6 L1592.0,197.3 L1592.8,196.1 L1593.7,194.8 L1594.5,193.6 L1595.4,192.4 L1596.4,191.3 L1597.3,190.1 L1598.4,189.0 L1599.4,188.0 L1600.5,186.9 L1601.7,186.0 L1602.9,185.1 L1604.2,184.4 L1605.6,183.7 L1607.0,183.2 L1608.4,182.9 L1609.9,182.8 L1611.4,182.8 L1612.9,183.1 L1614.3,183.5 L1615.7,184.1 L1617.0,184.8 L1618.3,185.6 L1619.5,186.5 L1620.7,187.4 L1621.8,188.4 L1622.9,189.4 L1623.9,190.5 L1624.9,191.6 L1625.9,192.8 L1626.8,193.9 L1627.7,195.1 L1628.6,196.3 L1629.5,197.5 L1630.4,198.8 L1631.2,200.0 L1632.0,201.3 L1632.8,202.5 L1633.6,203.8 L1634.4,205.1 L1635.2,206.3 L1635.9,207.6 L1636.7,208.9 L1637.4,210.2 L1638.2,211.5 L1638.9,212.9 L1639.6,214.2 L1640.3,215.5 L1641.0,216.8 L1641.7,218.1 L1642.4,219.5 L1643.1,220.8 L1643.7,222.1 L1644.4,223.5 L1645.1,224.8 L1645.8,226.2 L1646.4,227.5 L1647.1,228.9 L1647.7,230.2 L1648.4,231.5 L1649.0,232.9 L1649.7,234.2 L1650.3,235.6 L1651.0,236.9 L1651.6,238.3 L1652.3,239.6 L1652.9,241.0 L1653.6,242.3 L1654.2,243.7 L1654.9,245.0 L1655.5,246.4 L1656.2,247.7 L1656.9,249.1 L1657.5,250.4 L1658.2,251.8 L1658.8,253.1 L1659.5,254.5 L1660.2,255.8 L1660.8,257.1 L1661.5,258.5 L1662.2,259.8 L1662.9,261.1 L1663.6,262.5 L1664.2,263.8 L1664.9,265.1 L1665.6,266.5 L1666.4,267.8 L1667.1,269.1 L1667.8,270.4 L1668.5,271.7 L1669.2,273.0 L1670.0,274.3 L1670.7,275.6 L1671.5,276.9 L1672.2,278.2 L1673.0,279.5 L1673.8,280.8 L1674.6,282.0 L1675.4,283.3 L1676.2,284.6 L1677.0,285.8 L1677.8,287.1 L1678.7,288.3 L1679.5,289.5 L1680.4,290.8 L1681.3,292.0 L1682.2,293.2 L1683.1,294.4 L1684.0,295.6 L1684.9,296.7 L1685.9,297.9 L1686.9,299.0 L1687.9,300.1 L1688.9,301.2 L1690.0,302.3 L1691.0,303.3 L1692.1,304.3 L1693.3,305.3 L1694.4,306.3 L1695.6,307.2 L1696.9,308.0 L1698.1,308.8 L1699.4,309.5 L1700.8,310.2 L1702.2,310.8 L1703.6,311.3 L1705.0,311.6 L1706.5,311.9 L1708.0,312.1 L1709.5,312.2 L1711.0,312.2 L1712.5,312.1 L1714.0,312.0 L1715.5,311.8 L1716.9,311.6 L1718.4,311.4 L1719.9,311.2 L1721.4,311.0 L1722.9,310.7 L1724.4,310.5 L1725.8,310.3 L1727.3,310.2 L1728.8,310.1 L1730.3,310.1 L1731.8,310.2 L1733.3,310.3 L1734.8,310.5 L1736.2,310.9 L1737.7,311.3 L1739.1,311.8 L1740.4,312.5 L1741.7,313.2 L1743.0,314.0 L1744.2,314.9 L1745.4,315.8 L1746.5,316.8 L1747.6,317.9 L1748.6,319.0 L1749.6,320.1 L1750.5,321.3 L1751.4,322.5 L1752.3,323.7 L1753.1,325.0 L1753.9,326.2 L1754.7,327.5 L1755.4,328.8 L1756.1,330.1 L1756.8,331.4 L1757.5,332.8 L1758.2,334.1 L1758.8,335.5 L1759.4,336.8 L1760.0,338.2 L1760.6,339.6 L1761.2,341.0 L1761.8,342.4 L1762.3,343.8 L1762.8,345.2 L1763.4,346.6 L1763.9,348.0 L1764.4,349.4 L1764.9,350.8 L1765.4,352.2 L1765.8,353.6 L1766.3,355.1 L1766.7,356.5 L1767.2,357.9 L1767.6,359.3 L1768.1,360.8 L1768.5,362.2 L1768.9,363.6 L1769.3,365.1 L1769.7,366.5 L1770.1,368.0 L1770.5,369.4 L1770.9,370.9 L1771.3,372.3 L1771.7,373.8 L1772.0,375.2 L1772.4,376.7 L1772.8,378.1 L1773.1,379.6 L1773.5,381.0 L1773.8,382.5 L1774.2,383.9 L1774.5,385.4 L1774.8,386.9 L1775.2,388.3 L1775.5,389.8 L1775.8,391.2 L1776.1,392.7 L1776.5,394.2 L1776.8,395.6 L1777.1,397.1 L1777.4,398.6 L1777.7,400.0 L1778.0,401.5 L1778.3,403.0 L1778.6,404.4 L1778.9,405.9 L1779.2,407.4 L1779.5,408.9 L1779.7,410.3 L1780.0,411.8 L1780.3,413.3 L1780.6,414.7 L1780.9,416.2 L1781.1,417.7 L1781.4,419.2 L1781.7,420.6 L1781.9,422.1 L1782.2,423.6 L1782.5,425.1 L1782.7,426.5 L1783.0,428.0 L1783.2,429.5 L1783.5,431.0 L1783.7,432.4 L1784.0,433.9 L1784.2,435.4 L1784.5,436.9 L1784.7,438.3 L1784.9,439.8 L1785.2,441.3 L1785.4,442.8 L1785.7,444.3 L1785.9,445.7 L1786.1,447.2 L1786.4,448.7 L1786.6,450.2 L1786.8,451.7 L1787.0,453.1 L1787.3,454.6 L1787.5,456.1 L1787.7,457.6 L1787.9,459.1 L1788.2,460.5 L1788.4,462.0 L1788.6,463.5 L1788.8,465.0 L1789.0,466.5 L1789.3,468.0 L1789.5,469.4 L1789.7,470.9 L1789.9,472.4 L1790.1,473.9 L1790.3,475.4 L1790.5,476.8 L1790.7,478.3 L1790.9,479.8 L1791.1,481.3 L1791.3,482.8 L1791.5,484.3 L1791.8,485.8 L1792.0,487.2 L1792.2,488.7 L1792.4,490.2 L1792.6,491.7 L1792.8,493.2 L1793.0,494.7 L1793.1,496.1 L1793.3,497.6 L1793.5,499.1 L1793.7,500.6 L1793.9,502.1 L1794.1,503.6 L1794.3,505.1 L1794.5,506.5 L1794.7,508.0 L1794.9,509.5 L1795.1,511.0 L1795.3,512.5 L1795.5,514.0 L1795.6,515.5 L1795.8,516.9 L1796.0,518.4 L1796.2,519.9 L1796.4,521.4 L1796.6,522.9 L1796.8,524.4 L1796.9,525.9 L1797.1,527.3 L1797.3,528.8 L1797.5,530.3 L1797.7,531.8 L1797.8,533.3 L1798.0,534.8 L1798.2,536.3 L1798.4,537.8 L1798.6,539.2 L1798.7,540.7 L1798.9,542.2 L1799.1,543.7 L1799.3,545.2 L1799.4,546.7 L1799.6,548.2 L1799.8,549.7 L1800.0,551.1 L1800.1,552.6 L1800.3,554.1 L1800.5,555.6 L1800.7,557.1 L1800.8,558.6 L1801.0,560.1 L1801.2,561.6 L1801.3,563.0 L1801.5,564.5 L1801.7,566.0 L1801.8,567.5 L1802.0,569.0 L1802.2,570.5 L1802.4,572.0 L1802.5,573.5 L1802.7,575.0 L1802.9,576.4 L1803.0,577.9 L1803.2,579.4 L1803.4,580.9 L1803.5,582.4 L1803.7,583.9 L1803.8,585.4 L1804.0,586.9 L1804.2,588.3 L1804.3,589.8 L1804.5,591.3 L1804.7,592.8 L1804.8,594.3 L1805.0,595.8 L1805.1,597.3 L1805.3,598.8 L1805.5,600.3 L1805.6,601.8 L1805.8,603.2 L1806.0,604.7 L1806.1,606.2 L1806.3,607.7 L1806.4,609.2 L1806.6,610.7 L1806.7,612.2 L1806.9,613.7 L1807.1,615.2 L1807.2,616.6 L1807.4,618.1 L1807.5,619.6 L1807.7,621.1 L1807.8,622.6 L1808.0,624.1 L1808.2,625.6 L1808.3,627.1 L1808.5,628.6 L1808.6,630.1 L1808.8,631.5 L1808.9,633.0 L1809.1,634.5 L1809.2,636.0 L1809.4,637.5 L1809.5,639.0 L1809.7,640.5 L1809.9,642.0 L1810.0,643.5 L1810.2,645.0 L1810.3,646.4 L1810.5,647.9 L1810.6,649.4 L1810.8,650.9 L1810.9,652.4 L1811.1,653.9 L1811.2,655.4 L1811.4,656.9 L1811.5,658.4 L1811.7,659.9 L1811.8,661.3 L1812.0,662.8 L1812.1,664.3 L1812.3,665.8 L1812.4,667.3 L1812.6,668.8 L1812.7,670.3 L1812.9,671.8 L1813.0,673.3 L1813.2,674.8 L1813.3,676.2 L1813.4,677.7 L1813.6,679.2 L1813.7,680.7 L1813.9,682.2 L1814.0,683.7 L1814.2,685.2 L1814.3,686.7 L1814.5,688.2 L1814.6,689.7 L1814.8,691.2 L1814.9,692.6 L1815.1,694.1 L1815.2,695.6 L1815.3,697.1 L1815.5,698.6 L1815.6,700.1 L1815.8,701.6 L1815.9,703.1 L1816.1,704.6 L1816.2,706.1 L1816.4,707.6 L1816.5,709.0 L1816.7,710.5 L1816.8,712.0 L1816.9,713.5 L1817.1,715.0 L1817.2,716.5 L1817.4,718.0 L1817.5,719.5 L1817.7,721.0 L1817.8,722.5 L1817.9,724.0 L1818.1,725.4 L1818.2,726.9 L1818.4,728.4 L1818.5,729.9 L1818.7,731.4 L1818.8,732.9 L1818.9,734.4 L1819.1,735.9 L1819.2,737.4 L1819.4,738.9 L1819.5,740.4 L1819.6,741.8 L1819.8,743.3 L1819.9,744.8 L1820.1,746.3 L1820.2,747.8 L1820.4,749.3 L1820.5,750.8 L1820.6,752.3 L1820.8,753.8 L1820.9,755.3 L1821.1,756.8 L1821.2,758.2 L1821.3,759.7 L1821.5,761.2 L1821.6,762.7 L1821.8,764.2 L1821.9,765.7 L1822.0,767.2 L1822.2,768.7 L1822.3,770.2 L1822.5,771.7 L1822.6,773.2 L1822.7,774.7 L1822.9,776.1 L1823.0,777.6 L1823.2,779.1 L1823.3,780.6 L1823.4,782.1 L1823.6,783.6 L1823.7,785.1 L1823.8,786.6 L1824.0,788.1 L1824.1,789.6 L1824.3,791.1 L1824.4,792.5 L1824.5,794.0 L1824.7,795.5 L1824.8,797.0 L1825.0,798.5 L1825.1,800.0 L1825.2,801.5 L1825.4,803.0 L1825.5,804.5 L1825.7,806.0 L1825.8,807.5 L1825.9,809.0 L1826.1,810.4 L1826.2,811.9 L1826.3,813.4 L1826.5,814.9 L1826.6,816.4 L1826.8,817.9 L1826.9,819.4 L1827.0,820.9 L1827.2,822.4 L1827.3,823.9 L1827.4,825.4 L1827.6,826.9 L1827.7,828.3 L1827.9,829.8 L1828.0,831.3 L1828.1,832.8 L1828.3,834.3 L1828.4,835.8 L1828.6,837.3 L1828.7,838.8 L1828.8,840.3 L1829.0,841.8 L1829.1,843.3 L1829.2,844.7 L1829.4,846.2 L1829.5,847.7 L1829.7,849.2 L1829.8,850.7 L1829.9,852.2 L1830.1,853.7 L1830.2,855.2 L1830.3,856.7 L1830.5,858.2 L1830.6,859.7 L1830.8,861.2 L1830.9,862.6 L1831.0,864.1 L1831.2,865.6 L1831.3,867.1 L1831.4,868.6 L1831.6,870.1 L1831.7,871.6 L1831.9,873.1 L1832.0,874.6 L1832.1,876.1 L1832.3,877.6 L1832.4,879.1 L1832.6,880.5 L1832.7,882.0 L1832.8,883.5 L1833.0,885.0 L1833.1,886.5 L1833.2,888.0 L1833.4,889.5 L1833.5,891.0 L1833.7,892.5 L1833.8,894.0 L1833.9,895.5 L1834.1,896.9 L1834.2,898.4 L1834.4,899.9 L1834.5,901.4 L1834.6,902.9 L1834.8,904.4 L1834.9,905.9 L1835.0,907.4 L1835.2,908.9 L1835.3,910.4 L1835.5,911.9 L1835.6,913.4 L1835.7,914.8 L1835.9,916.3 L1836.0,917.8 L1836.2,919.3 L1836.3,920.8 L1836.4,922.3 L1836.6,923.8 L1836.7,925.3 L1836.9,926.8 L1837.0,928.3 L1837.1,929.8 L1837.3,931.2 L1837.4,932.7 L1837.6,934.2 L1837.7,935.7 L1837.8,937.2 L1838.0,938.7 L1838.1,940.2 L1838.3,941.7 L1838.4,943.2 L1838.5,944.7 L1838.7,946.2 L1838.8,947.7 L1839.0,949.1 L1839.1,950.6 L1839.2,952.1 L1839.4,953.6 L1839.5,955.1 L1839.7,956.6 L1839.8,958.1 L1840.0,959.6 L1840.1,961.1 L1840.2,962.6 L1840.4,964.1 L1840.5,965.5 L1840.7,967.0 L1840.8,968.5 L1840.9,970.0 L1841.1,971.5 L1841.2,973.0 L1841.4,974.5 L1841.5,976.0 L1841.7,977.5 L1841.8,979.0 L1841.9,980.5 L1842.1,981.9 L1842.2,983.4 L1842.4,984.9 L1842.5,986.4 L1842.7,987.9 L1842.8,989.4 L1842.9,990.9 L1843.1,992.4 L1843.2,993.9 L1843.4,995.4 L1843.5,996.9 L1843.7,998.3 L1843.8,999.8 L1844.0,1001.3 L1844.1,1002.8 L1844.3,1004.3 L1844.4,1005.8 L1844.5,1007.3 L1844.7,1008.8 L1844.8,1010.3 L1845.0,1011.8 L1845.1,1013.3 L1845.3,1014.7 L1845.4,1016.2 L1845.6,1017.7 L1845.7,1019.2 L1845.9,1020.7 L1846.0,1022.2 L1846.2,1023.7 L1846.3,1025.2 L1846.4,1026.7 L1846.6,1028.2 L1846.7,1029.7 L1846.9,1031.1 L1847.0,1032.6 L1847.2,1034.1 L1847.3,1035.6 L1847.5,1037.1 L1847.6,1038.6 L1847.8,1040.1 L1847.9,1041.6 L1848.1,1043.1 L1848.2,1044.6 L1848.4,1046.0 L1848.5,1047.5 L1848.7,1049.0 L1848.8,1050.5 L1849.0,1052.0 L1849.1,1053.5 L1849.3,1055.0 L1849.4,1056.5 L1849.6,1058.0 L1849.7,1059.5 L1849.9,1060.9 L1850.0,1062.4 L1850.2,1063.9 L1850.3,1065.4 L1850.5,1066.9 L1850.6,1068.4 L1850.8,1069.9 L1851.0,1071.4 L1851.1,1072.9 L1851.3,1074.4 L1851.4,1075.8 L1851.6,1077.3 L1851.7,1078.8 L1851.9,1080.3 L1852.0,1081.8 L1852.2,1083.3 L1852.3,1084.8 L1852.5,1086.3 L1852.7,1087.8 L1852.8,1089.3 L1853.0,1090.7 L1853.1,1092.2 L1853.3,1093.7 L1853.4,1095.2 L1853.6,1096.7 L1853.7,1098.2 L1853.9,1099.7 L1854.1,1101.2 L1854.2,1102.7 L1854.4,1104.2 L1854.5,1105.6 L1854.7,1107.1 L1854.9,1108.6 L1855.0,1110.1 L1855.2,1111.6 L1855.3,1113.1 L1855.5,1114.6 L1855.7,1116.1 L1855.8,1117.6 L1856.0,1119.0 L1856.1,1120.5 L1856.3,1122.0 L1856.5,1123.5 L1856.6,1125.0 L1856.8,1126.5 L1856.9,1128.0 L1857.1,1129.5 L1857.3,1131.0 L1857.4,1132.4 L1857.6,1133.9 L1857.8,1135.4 L1857.9,1136.9 L1858.1,1138.4 L1858.3,1139.9 L1858.4,1141.4 L1858.6,1142.9 L1858.7,1144.4 L1858.9,1145.8 L1859.1,1147.3 L1859.2,1148.8 L1859.4,1150.3 L1859.6,1151.8 L1859.7,1153.3 L1859.9,1154.8 L1860.1,1156.3 L1860.3,1157.8 L1860.4,1159.2 L1860.6,1160.7 L1860.8,1162.2 L1860.9,1163.7 L1861.1,1165.2 L1861.3,1166.7 L1861.4,1168.2 L1861.6,1169.7 L1861.8,1171.1 L1862.0,1172.6 L1862.1,1174.1 L1862.3,1175.6 L1862.5,1177.1 L1862.7,1178.6 L1862.8,1180.1 L1863.0,1181.6 L1863.2,1183.0 L1863.4,1184.5 L1863.5,1186.0 L1863.7,1187.5 L1863.9,1189.0 L1864.1,1190.5 L1864.2,1192.0 L1864.4,1193.5 L1864.6,1194.9 L1864.8,1196.4 L1865.0,1197.9 L1865.1,1199.4 L1865.3,1200.9 L1865.5,1202.4 L1865.7,1203.9 L1865.9,1205.4 L1866.0,1206.8 L1866.2,1208.3 L1866.4,1209.8 L1866.6,1211.3 L1866.8,1212.8 L1867.0,1214.3 L1867.2,1215.8 L1867.3,1217.2 L1867.5,1218.7 L1867.7,1220.2 L1867.9,1221.7 L1868.1,1223.2 L1868.3,1224.7 L1868.5,1226.2 L1868.7,1227.6 L1868.9,1229.1 L1869.0,1230.6 L1869.2,1232.1 L1869.4,1233.6 L1869.6,1235.1 L1869.8,1236.6 L1870.0,1238.0 L1870.2,1239.5 L1870.4,1241.0 L1870.6,1242.5 L1870.8,1244.0 L1871.0,1245.5 L1871.2,1247.0 L1871.4,1248.4 L1871.6,1249.9 L1871.8,1251.4 L1872.0,1252.9 L1872.2,1254.4 L1872.4,1255.9 L1872.6,1257.3 L1872.8,1258.8 L1873.0,1260.3 L1873.2,1261.8 L1873.4,1263.3 L1873.6,1264.8 L1873.9,1266.2 L1874.1,1267.7 L1874.3,1269.2 L1874.5,1270.7 L1874.7,1272.2 L1874.9,1273.7 L1875.1,1275.1 L1875.4,1276.6 L1875.6,1278.1 L1875.8,1279.6 L1876.0,1281.1 L1876.2,1282.5 L1876.4,1284.0 L1876.7,1285.5 L1876.9,1287.0 L1877.1,1288.5 L1877.3,1289.9 L1877.6,1291.4 L1877.8,1292.9 L1878.0,1294.4 L1878.3,1295.9 L1878.5,1297.4 L1878.7,1298.8 L1879.0,1300.3 L1879.2,1301.8 L1879.4,1303.3 L1879.7,1304.7 L1879.9,1306.2 L1880.2,1307.7 L1880.4,1309.2 L1880.6,1310.7 L1880.9,1312.1 L1881.1,1313.6 L1881.4,1315.1 L1881.6,1316.6 L1881.9,1318.0 L1882.1,1319.5 L1882.4,1321.0 L1882.6,1322.5 L1882.9,1323.9 L1883.2,1325.4 L1883.4,1326.9 L1883.7,1328.4 L1884.0,1329.8 L1884.2,1331.3 L1884.5,1332.8 L1884.8,1334.3 L1885.0,1335.7 L1885.3,1337.2 L1885.6,1338.7 L1885.9,1340.2 L1886.1,1341.6 L1886.4,1343.1 L1886.7,1344.6 L1887.0,1346.0 L1887.3,1347.5 L1887.6,1349.0 L1887.9,1350.4 L1888.2,1351.9 L1888.5,1353.4 L1888.7,1354.9 L1889.1,1356.3 L1889.4,1357.8 L1889.7,1359.3 L1890.0,1360.7 L1890.3,1362.2 L1890.6,1363.6 L1890.9,1365.1 L1891.2,1366.6 L1891.5,1368.0 L1891.9,1369.5 L1892.2,1371.0 L1892.5,1372.4 L1892.9,1373.9 L1893.2,1375.3 L1893.5,1376.8 L1893.9,1378.3 L1894.2,1379.7 L1894.6,1381.2 L1894.9,1382.6 L1895.3,1384.1 L1895.6,1385.5 L1896.0,1387.0 L1896.4,1388.4 L1896.7,1389.9 L1897.1,1391.3 L1897.5,1392.8 L1897.9,1394.2 L1898.3,1395.7 L1898.7,1397.1 L1899.1,1398.6 L1899.5,1400.0 L1899.9,1401.5 L1900.3,1402.9 L1900.7,1404.3 L1901.1,1405.8 L1901.5,1407.2 L1902.0,1408.7 L1902.4,1410.1 L1902.8,1411.5 L1903.3,1412.9 L1903.7,1414.4 L1904.2,1415.8 L1904.7,1417.2 L1905.1,1418.6 L1905.6,1420.1 L1906.1,1421.5 L1906.6,1422.9 L1907.1,1424.3 L1907.6,1425.7 L1908.1,1427.1 L1908.7,1428.5 L1909.2,1429.9 L1909.7,1431.3 L1910.3,1432.7 L1910.8,1434.1 L1911.4,1435.5 L1912.0,1436.9 L1912.6,1438.2 L1913.2,1439.6 L1913.8,1441.0 L1914.4,1442.3 L1915.1,1443.7 L1915.7,1445.0 L1916.4,1446.4 L1917.1,1447.7 L1917.8,1449.0 L1918.5,1450.3 L1919.2,1451.7 L1920.0,1453.0 L1920.8,1454.2 L1921.5,1455.5 L1922.3,1456.8 L1923.2,1458.0 L1924.0,1459.3 L1924.9,1460.5 L1925.8,1461.7 L1926.7,1462.9 L1927.6,1464.1 L1928.6,1465.2 L1929.5,1466.3 L1930.5,1467.5 L1931.6,1468.5 L1932.6,1469.6 L1933.7,1470.6 L1934.8,1471.6 L1936.0,1472.6 L1937.1,1473.5 L1938.3,1474.5 L1939.5,1475.3 L1940.8,1476.2 L1942.0,1477.0 L1943.3,1477.8 L1944.6,1478.5 L1945.9,1479.3 L1947.2,1480.0 L1948.6,1480.6 L1949.9,1481.3 L1951.3,1481.9 L1952.7,1482.5 L1954.0,1483.1 L1955.4,1483.7 L1956.8,1484.2 L1958.2,1484.7 L1959.6,1485.2 L1961.1,1485.7 L1962.5,1486.2 L1963.9,1486.6 L1965.4,1487.0 L1966.8,1487.4 L1968.3,1487.8 L1969.7,1488.1 L1971.2,1488.4 L1972.6,1488.7 L1974.1,1489.0 L1975.6,1489.3 L1977.1,1489.5 L1978.5,1489.7 L1980.0,1489.9 L1981.5,1490.1 L1983.0,1490.3 L1984.5,1490.4 L1986.0,1490.6 L1987.5,1490.7 L1989.0,1490.8 L1990.5,1490.9 L1992.0,1491.0 L1993.5,1491.0 L1995.0,1491.1 L1996.5,1491.1 L1998.0,1491.1 L1999.5,1491.1 L2001.0,1491.1 L2002.5,1491.1 L2003.9,1491.1 L2005.4,1491.1 L2006.9,1491.1 L2008.4,1491.0 L2009.9,1491.0 L2011.4,1490.9 L2012.9,1490.9 L2014.4,1490.8 L2015.9,1490.8 L2017.4,1490.7 L2018.9,1490.6 L2020.4,1490.6 L2021.9,1490.5 L2023.4,1490.5 L2024.9,1490.4 L2026.4,1490.3 L2027.9,1490.3 L2029.4,1490.2 L2030.9,1490.2 L2032.4,1490.1 L2033.9,1490.1 L2035.4,1490.0 L2036.9,1490.0 L2038.4,1490.0 L2039.9,1489.9 L2041.4,1489.9 L2042.9,1489.9 L2044.4,1489.9 L2045.9,1489.9 L2047.4,1490.0 L2048.9,1490.0 L2050.4,1490.1 L2051.9,1490.1 L2053.3,1490.2 L2054.8,1490.3 L2056.3,1490.4 L2057.8,1490.5 L2059.3,1490.7 L2060.8,1490.8 L2062.3,1491.0" stroke="#ff0000" stroke-width="14.5"/>
</g>
<g clip-path="url(#no1bar)">
<text transform="translate(209.80,1512.96) scale(1,1.02)" font-size="56" text-anchor="end" fill="#262626" >0</text><text transform="translate(209.80,1366.97) scale(1,1.02)" font-size="56" text-anchor="end" fill="#262626" >0.05</text><text transform="translate(212.20,1223.98) scale(1,1.02)" font-size="56" text-anchor="end" fill="#262626" >0.<tspan dx="2.4">1</tspan></text><text transform="translate(209.80,1078.09) scale(1,1.02)" font-size="56" text-anchor="end" fill="#262626" >0.<tspan dx="1.3">1</tspan><tspan dx="-1.3">5</tspan></text><text transform="translate(209.80,935.10) scale(1,1.02)" font-size="56" text-anchor="end" fill="#262626" >0.2</text><text transform="translate(209.80,791.61) scale(1,1.02)" font-size="56" text-anchor="end" fill="#262626" >0.25</text><text transform="translate(209.80,646.02) scale(1,1.02)" font-size="56" text-anchor="end" fill="#262626" >0.3</text><text transform="translate(209.80,502.33) scale(1,1.02)" font-size="56" text-anchor="end" fill="#262626" >0.35</text><text transform="translate(209.80,356.84) scale(1,1.02)" font-size="56" text-anchor="end" fill="#262626" >0.4</text><text transform="translate(209.80,213.80) scale(1,1.02)" font-size="56" text-anchor="end" fill="#262626" >0.45</text><text transform="translate(209.80,67.76) scale(1,1.02)" font-size="56" text-anchor="end" fill="#262626" >0.5</text>
<text transform="translate(217.53,1569.40) scale(1,1.02)" font-size="56" text-anchor="start" fill="#262626" ><tspan dx="1.5">1</tspan></text><text transform="translate(419.14,1569.40) scale(1,1.02)" font-size="56" text-anchor="start" fill="#262626" >2</text><text transform="translate(624.46,1569.40) scale(1,1.02)" font-size="56" text-anchor="start" fill="#262626" >3</text><text transform="translate(825.63,1569.40) scale(1,1.02)" font-size="56" text-anchor="start" fill="#262626" >4</text><text transform="translate(1029.64,1569.40) scale(1,1.02)" font-size="56" text-anchor="start" fill="#262626" >5</text><text transform="translate(1233.56,1569.40) scale(1,1.02)" font-size="56" text-anchor="start" fill="#262626" >6</text><text transform="translate(1437.23,1569.40) scale(1,1.02)" font-size="56" text-anchor="start" fill="#262626" >7</text><text transform="translate(1639.69,1569.40) scale(1,1.02)" font-size="56" text-anchor="start" fill="#262626" >8</text><text transform="translate(1844.56,1569.40) scale(1,1.02)" font-size="56" text-anchor="start" fill="#262626" >9</text><text transform="translate(2031.76,1569.40) scale(1,1.02)" font-size="56" text-anchor="start" fill="#262626" ><tspan dx="1.5">1</tspan><tspan dx="-1.5">0</tspan></text>
</g>
<text transform="translate(812.45,1658.60) scale(1,1.044)" font-size="67.64" text-anchor="start" fill="#262626" >M</text><text transform="translate(868.80,1658.60) scale(1,1.0)" font-size="67.64" text-anchor="start" fill="#262626" >easured speed [unit]</text>
<text transform="translate(64.7,929.35) rotate(-90) scale(1,1.044)" font-size="67.7" fill="#262626">F</text>
<text transform="translate(64.7,888.00) rotate(-90)" font-size="67.7" fill="#262626">requency</text>
<rect x="274.5" y="90.9" width="605.5" height="188.6" fill="#fff" stroke="#1a1a1a" stroke-width="2.5"/>
<path d="M291.9,142.4 H461" stroke="#0000ff" stroke-width="14.5"/>
<path d="M291.9,231.5 H461" stroke="#ff0000" stroke-width="14.5"/>
<text transform="translate(475.38,167.90) scale(1,1.044)" font-size="67.3" text-anchor="start" fill="#000" >M</text><text transform="translate(531.44,167.90) scale(1,1.0)" font-size="67.3" text-anchor="start" fill="#000" >eas. speed</text>
<text transform="translate(475.18,259.60) scale(1,1.044)" font-size="67.3" text-anchor="start" fill="#000" >E</text><text transform="translate(520.07,259.60) scale(1,1.0)" font-size="67.3" text-anchor="start" fill="#000" >st. speed</text>
</svg>
</body></html>
